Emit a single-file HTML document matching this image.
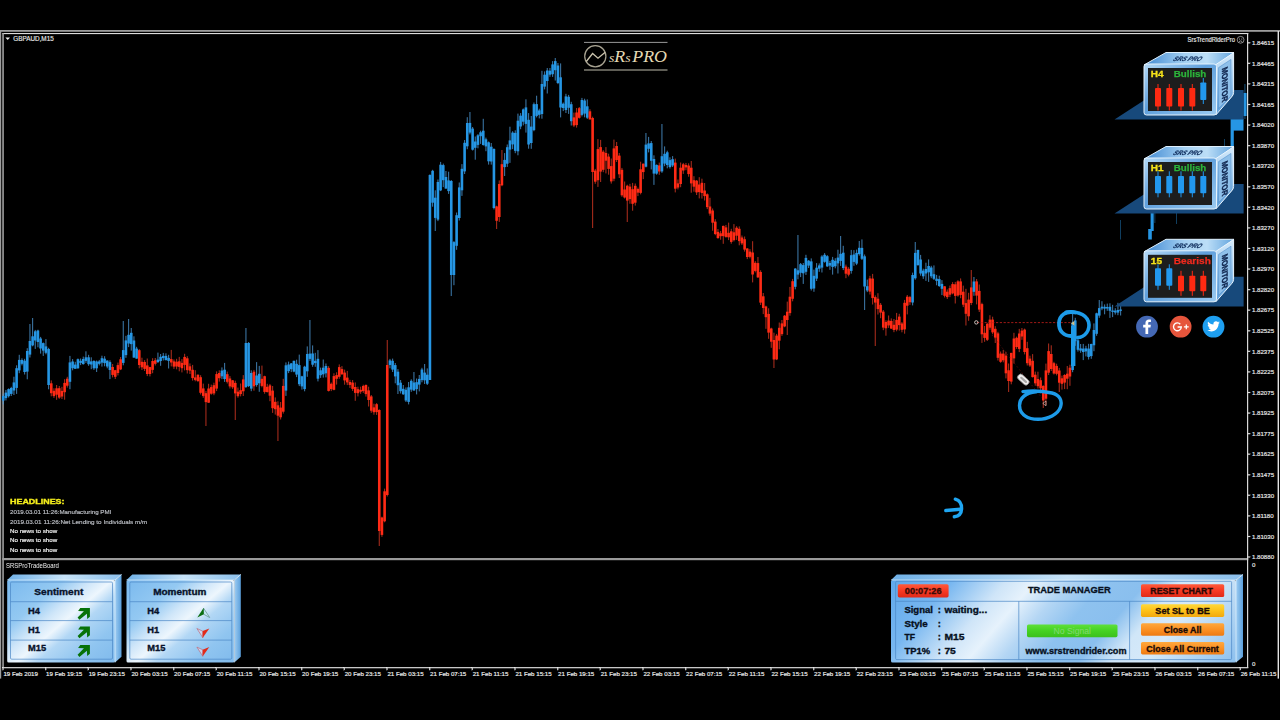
<!DOCTYPE html>
<html><head><meta charset="utf-8"><title>GBPAUD M15</title>
<style>
html,body{margin:0;padding:0;background:#000;}
body{width:1280px;height:720px;overflow:hidden;font-family:"Liberation Sans",sans-serif;}
svg{display:block;position:absolute;left:0;top:0;}
text{font-family:"Liberation Sans",sans-serif;}
.ser{font-family:"Liberation Serif",serif;}
</style></head><body>
<svg width="1280" height="720" viewBox="0 0 1280 720">
<defs>
<linearGradient id="gFront" gradientUnits="userSpaceOnUse" x1="7" y1="580" x2="92.8" y2="680.3">
<stop offset="0" stop-color="#7ab9ee"/><stop offset=".28" stop-color="#94c9f2"/><stop offset=".42" stop-color="#cfe6f9"/><stop offset=".52" stop-color="#edf6fd"/><stop offset=".62" stop-color="#b2d7f5"/><stop offset=".8" stop-color="#90c5f0"/><stop offset="1" stop-color="#80baec"/>
</linearGradient>
<linearGradient id="gTM" gradientUnits="userSpaceOnUse" x1="891" y1="580" x2="1130.6" y2="785">
<stop offset="0" stop-color="#5fa8ec"/><stop offset=".15" stop-color="#78b7f0"/><stop offset=".28" stop-color="#cfe5f8"/><stop offset=".35" stop-color="#e6f2fc"/><stop offset=".43" stop-color="#b4d6f4"/><stop offset=".52" stop-color="#8ec2ef"/><stop offset=".62" stop-color="#8abfee"/><stop offset=".70" stop-color="#d0e6f8"/><stop offset=".78" stop-color="#d6e9f9"/><stop offset=".9" stop-color="#aed3f3"/><stop offset="1" stop-color="#8cc0ee"/>
</linearGradient>
<linearGradient id="gTop" x1="0" y1="0" x2="1" y2="0">
<stop offset="0" stop-color="#6fb0e6"/><stop offset=".5" stop-color="#c7e3f8"/><stop offset="1" stop-color="#8cc0ec"/>
</linearGradient>
<linearGradient id="gSide" x1="0" y1="0" x2="1" y2="0">
<stop offset="0" stop-color="#9fcdf2"/><stop offset="1" stop-color="#5a9fdc"/>
</linearGradient>
<linearGradient id="gMonTop" x1="0" y1="0" x2="1" y2="0">
<stop offset="0" stop-color="#3f88d2"/><stop offset=".45" stop-color="#a4d0f2"/><stop offset=".7" stop-color="#bcdef7"/><stop offset="1" stop-color="#62a4de"/>
</linearGradient>
<linearGradient id="gMonSide" x1="0" y1="0" x2="0" y2="1">
<stop offset="0" stop-color="#d6ebfb"/><stop offset=".5" stop-color="#9cc8ee"/><stop offset="1" stop-color="#5d9fda"/>
</linearGradient>
<linearGradient id="gMonFront" x1="0" y1="0" x2="1" y2="1">
<stop offset="0" stop-color="#b4d9f6"/><stop offset=".45" stop-color="#5f9fdc"/><stop offset="1" stop-color="#9ccbf1"/>
</linearGradient>
<linearGradient id="gRedBtn" x1="0" y1="0" x2="0" y2="1"><stop offset="0" stop-color="#ff5a3a"/><stop offset=".5" stop-color="#f83a24"/><stop offset="1" stop-color="#e02a18"/></linearGradient>
<linearGradient id="gYelBtn" x1="0" y1="0" x2="0" y2="1"><stop offset="0" stop-color="#ffd83a"/><stop offset=".5" stop-color="#fdc21a"/><stop offset="1" stop-color="#f2a80e"/></linearGradient>
<linearGradient id="gOrBtn" x1="0" y1="0" x2="0" y2="1"><stop offset="0" stop-color="#ffa83e"/><stop offset=".5" stop-color="#fb9124"/><stop offset="1" stop-color="#ee7a12"/></linearGradient>
<linearGradient id="gGrBtn" x1="0" y1="0" x2="0" y2="1"><stop offset="0" stop-color="#5fe03a"/><stop offset=".5" stop-color="#45d222"/><stop offset="1" stop-color="#3cc01c"/></linearGradient>
<filter id="soft" x="-5%" y="-5%" width="110%" height="110%"><feGaussianBlur stdDeviation="0.35"/></filter>
<filter id="soft2" x="-5%" y="-5%" width="110%" height="110%"><feGaussianBlur stdDeviation="0.3"/></filter>
</defs>
<rect width="1280" height="720" fill="#000"/>

<g id="frame">
<rect x="0" y="30" width="1280" height="1.8" fill="#9c9c9c"/>
<rect x="0" y="30" width="1.2" height="648.6" fill="#9c9c9c"/>
<rect x="1277.6" y="31" width="1.4" height="647.6" fill="#e4e4e4"/>
<rect x="2.3" y="33" width="1246" height="1.1" fill="#dcdcdc"/>
<rect x="2.3" y="33" width="1.5" height="635" fill="#a8a8a8"/>
<rect x="2.3" y="558" width="1246" height="2.2" fill="#9a9a9a"/>
<rect x="2.3" y="667" width="1246" height="1.3" fill="#c8c8c8"/>
<rect x="1247" y="33" width="1.2" height="635" fill="#d8d8d8"/>
</g>
<g id="paxis" fill="#e6e6e6" font-size="6.1" stroke="#e6e6e6" stroke-width=".18">
<rect x="1248" y="42.3" width="2.2" height="1" fill="#d8d8d8"/>
<text x="1252" y="45.0">1.84615</text>
<rect x="1248" y="62.9" width="2.2" height="1" fill="#d8d8d8"/>
<text x="1252" y="65.6">1.84465</text>
<rect x="1248" y="83.4" width="2.2" height="1" fill="#d8d8d8"/>
<text x="1252" y="86.1">1.84315</text>
<rect x="1248" y="104.0" width="2.2" height="1" fill="#d8d8d8"/>
<text x="1252" y="106.7">1.84165</text>
<rect x="1248" y="124.6" width="2.2" height="1" fill="#d8d8d8"/>
<text x="1252" y="127.3">1.84020</text>
<rect x="1248" y="145.1" width="2.2" height="1" fill="#d8d8d8"/>
<text x="1252" y="147.8">1.83870</text>
<rect x="1248" y="165.7" width="2.2" height="1" fill="#d8d8d8"/>
<text x="1252" y="168.4">1.83720</text>
<rect x="1248" y="186.3" width="2.2" height="1" fill="#d8d8d8"/>
<text x="1252" y="189.0">1.83570</text>
<rect x="1248" y="206.9" width="2.2" height="1" fill="#d8d8d8"/>
<text x="1252" y="209.6">1.83420</text>
<rect x="1248" y="227.4" width="2.2" height="1" fill="#d8d8d8"/>
<text x="1252" y="230.1">1.83270</text>
<rect x="1248" y="248.0" width="2.2" height="1" fill="#d8d8d8"/>
<text x="1252" y="250.7">1.83120</text>
<rect x="1248" y="268.6" width="2.2" height="1" fill="#d8d8d8"/>
<text x="1252" y="271.3">1.82970</text>
<rect x="1248" y="289.1" width="2.2" height="1" fill="#d8d8d8"/>
<text x="1252" y="291.8">1.82820</text>
<rect x="1248" y="309.7" width="2.2" height="1" fill="#d8d8d8"/>
<text x="1252" y="312.4">1.82675</text>
<rect x="1248" y="330.3" width="2.2" height="1" fill="#d8d8d8"/>
<text x="1252" y="333.0">1.82525</text>
<rect x="1248" y="350.9" width="2.2" height="1" fill="#d8d8d8"/>
<text x="1252" y="353.6">1.82375</text>
<rect x="1248" y="371.4" width="2.2" height="1" fill="#d8d8d8"/>
<text x="1252" y="374.1">1.82225</text>
<rect x="1248" y="392.0" width="2.2" height="1" fill="#d8d8d8"/>
<text x="1252" y="394.7">1.82075</text>
<rect x="1248" y="412.6" width="2.2" height="1" fill="#d8d8d8"/>
<text x="1252" y="415.3">1.81925</text>
<rect x="1248" y="433.1" width="2.2" height="1" fill="#d8d8d8"/>
<text x="1252" y="435.8">1.81775</text>
<rect x="1248" y="453.7" width="2.2" height="1" fill="#d8d8d8"/>
<text x="1252" y="456.4">1.81625</text>
<rect x="1248" y="474.3" width="2.2" height="1" fill="#d8d8d8"/>
<text x="1252" y="477.0">1.81475</text>
<rect x="1248" y="494.8" width="2.2" height="1" fill="#d8d8d8"/>
<text x="1252" y="497.5">1.81330</text>
<rect x="1248" y="515.4" width="2.2" height="1" fill="#d8d8d8"/>
<text x="1252" y="518.1">1.81180</text>
<rect x="1248" y="536.0" width="2.2" height="1" fill="#d8d8d8"/>
<text x="1252" y="538.7">1.81030</text>
<rect x="1248" y="556.5" width="2.2" height="1" fill="#d8d8d8"/>
<text x="1252" y="559.2">1.80880</text>
<text x="1252" y="566.7">0</text><text x="1252" y="665.5">0</text>
</g>
<g id="taxis" fill="#ececec" font-size="6.15" stroke="#ececec" stroke-width=".18">
<rect x="2.5" y="667.5" width="1" height="2.6" fill="#d8d8d8"/>
<text x="3.4" y="675.7">19 Feb 2019</text>
<rect x="45.2" y="667.5" width="1" height="2.6" fill="#d8d8d8"/>
<text x="46.1" y="675.7">19 Feb 19:15</text>
<rect x="87.8" y="667.5" width="1" height="2.6" fill="#d8d8d8"/>
<text x="88.7" y="675.7">19 Feb 23:15</text>
<rect x="130.5" y="667.5" width="1" height="2.6" fill="#d8d8d8"/>
<text x="131.4" y="675.7">20 Feb 03:15</text>
<rect x="173.2" y="667.5" width="1" height="2.6" fill="#d8d8d8"/>
<text x="174.1" y="675.7">20 Feb 07:15</text>
<rect x="215.8" y="667.5" width="1" height="2.6" fill="#d8d8d8"/>
<text x="216.7" y="675.7">20 Feb 11:15</text>
<rect x="258.5" y="667.5" width="1" height="2.6" fill="#d8d8d8"/>
<text x="259.4" y="675.7">20 Feb 15:15</text>
<rect x="301.2" y="667.5" width="1" height="2.6" fill="#d8d8d8"/>
<text x="302.1" y="675.7">20 Feb 19:15</text>
<rect x="343.8" y="667.5" width="1" height="2.6" fill="#d8d8d8"/>
<text x="344.7" y="675.7">20 Feb 23:15</text>
<rect x="386.5" y="667.5" width="1" height="2.6" fill="#d8d8d8"/>
<text x="387.4" y="675.7">21 Feb 03:15</text>
<rect x="429.2" y="667.5" width="1" height="2.6" fill="#d8d8d8"/>
<text x="430.1" y="675.7">21 Feb 07:15</text>
<rect x="471.8" y="667.5" width="1" height="2.6" fill="#d8d8d8"/>
<text x="472.7" y="675.7">21 Feb 11:15</text>
<rect x="514.5" y="667.5" width="1" height="2.6" fill="#d8d8d8"/>
<text x="515.4" y="675.7">21 Feb 15:15</text>
<rect x="557.2" y="667.5" width="1" height="2.6" fill="#d8d8d8"/>
<text x="558.1" y="675.7">21 Feb 19:15</text>
<rect x="599.8" y="667.5" width="1" height="2.6" fill="#d8d8d8"/>
<text x="600.7" y="675.7">21 Feb 23:15</text>
<rect x="642.5" y="667.5" width="1" height="2.6" fill="#d8d8d8"/>
<text x="643.4" y="675.7">22 Feb 03:15</text>
<rect x="685.2" y="667.5" width="1" height="2.6" fill="#d8d8d8"/>
<text x="686.1" y="675.7">22 Feb 07:15</text>
<rect x="727.8" y="667.5" width="1" height="2.6" fill="#d8d8d8"/>
<text x="728.7" y="675.7">22 Feb 11:15</text>
<rect x="770.5" y="667.5" width="1" height="2.6" fill="#d8d8d8"/>
<text x="771.4" y="675.7">22 Feb 15:15</text>
<rect x="813.2" y="667.5" width="1" height="2.6" fill="#d8d8d8"/>
<text x="814.1" y="675.7">22 Feb 19:15</text>
<rect x="855.8" y="667.5" width="1" height="2.6" fill="#d8d8d8"/>
<text x="856.7" y="675.7">22 Feb 23:15</text>
<rect x="898.5" y="667.5" width="1" height="2.6" fill="#d8d8d8"/>
<text x="899.4" y="675.7">25 Feb 03:15</text>
<rect x="941.2" y="667.5" width="1" height="2.6" fill="#d8d8d8"/>
<text x="942.1" y="675.7">25 Feb 07:15</text>
<rect x="983.8" y="667.5" width="1" height="2.6" fill="#d8d8d8"/>
<text x="984.7" y="675.7">25 Feb 11:15</text>
<rect x="1026.5" y="667.5" width="1" height="2.6" fill="#d8d8d8"/>
<text x="1027.4" y="675.7">25 Feb 15:15</text>
<rect x="1069.2" y="667.5" width="1" height="2.6" fill="#d8d8d8"/>
<text x="1070.1" y="675.7">25 Feb 19:15</text>
<rect x="1111.8" y="667.5" width="1" height="2.6" fill="#d8d8d8"/>
<text x="1112.7" y="675.7">25 Feb 23:15</text>
<rect x="1154.5" y="667.5" width="1" height="2.6" fill="#d8d8d8"/>
<text x="1155.4" y="675.7">26 Feb 03:15</text>
<rect x="1197.2" y="667.5" width="1" height="2.6" fill="#d8d8d8"/>
<text x="1198.1" y="675.7">26 Feb 07:15</text>
<rect x="1239.8" y="667.5" width="1" height="2.6" fill="#d8d8d8"/>
<text x="1240.7" y="675.7">26 Feb 11:15</text>
</g>
<path d="M5.4 37.5h4.6l-2.3 2.6z" fill="#f0f0f0"/>
<text x="13.3" y="40.9" font-size="6.3" fill="#e8e8e8" stroke="#e8e8e8" stroke-width=".15" textLength="40.4" lengthAdjust="spacingAndGlyphs">GBPAUD,M15</text>
<text x="1187.6" y="41.9" font-size="6.3" fill="#e8e8e8" stroke="#e8e8e8" stroke-width=".15" textLength="47.5" lengthAdjust="spacingAndGlyphs">SrsTrendRiderPro</text>
<g stroke="#e0e0e0" stroke-width=".6" fill="none"><circle cx="1240.6" cy="39.8" r="3.4"/><path d="M1239 41.6q1.6-1.4 3.2 0"/></g><circle cx="1239.4" cy="38.9" r=".5" fill="#e0e0e0"/><circle cx="1241.8" cy="38.9" r=".5" fill="#e0e0e0"/>
<g id="logo">
<rect x="584" y="41.9" width="83.5" height=".9" fill="#a9a9a9"/>
<rect x="584" y="69.2" width="83.5" height="1.6" fill="#77756c"/>
<circle cx="595.3" cy="56.3" r="10.6" fill="none" stroke="#a8a392" stroke-width="1.25"/>
<path d="M586.3 61.5L592.6 53.5L598 58.2L605.2 52.3" fill="none" stroke="#cbc4ae" stroke-width="1.3"/>
<text class="ser" x="609" y="61.6" font-size="17.5" font-style="italic" fill="#e4d9b4" textLength="58" lengthAdjust="spacingAndGlyphs"><tspan font-size="13.5">s</tspan>R<tspan font-size="13.5">s</tspan><tspan dx="1.5">P</tspan>RO</text>
</g>
<g id="candles" filter="url(#soft)">
<rect x="2.72" y="393.8" width="1.1" height="10.6" fill="#4f9edc" opacity="0.72"/>
<rect x="1.97" y="396.0" width="2.6" height="4.6" fill="#2696e4"/>
<rect x="5.38" y="389.9" width="1.1" height="10.5" fill="#4f9edc" opacity="0.72"/>
<rect x="4.63" y="392.6" width="2.6" height="5.5" fill="#2696e4"/>
<rect x="8.05" y="388.4" width="1.1" height="9.1" fill="#4f9edc" opacity="0.72"/>
<rect x="7.30" y="389.1" width="2.6" height="7.1" fill="#2696e4"/>
<rect x="10.72" y="386.8" width="1.1" height="9.2" fill="#4f9edc" opacity="0.72"/>
<rect x="9.97" y="388.0" width="2.6" height="5.9" fill="#2696e4"/>
<rect x="13.38" y="376.7" width="1.1" height="18.3" fill="#4f9edc" opacity="0.72"/>
<rect x="12.63" y="382.4" width="2.6" height="8.1" fill="#2696e4"/>
<rect x="16.05" y="365.3" width="1.1" height="28.6" fill="#4f9edc" opacity="0.72"/>
<rect x="15.30" y="368.2" width="2.6" height="19.7" fill="#2696e4"/>
<rect x="18.72" y="354.8" width="1.1" height="18.4" fill="#4f9edc" opacity="0.72"/>
<rect x="17.97" y="359.9" width="2.6" height="10.5" fill="#2696e4"/>
<rect x="21.38" y="358.3" width="1.1" height="7.1" fill="#4f9edc" opacity="0.72"/>
<rect x="20.63" y="360.0" width="2.6" height="3.8" fill="#2696e4"/>
<rect x="24.05" y="358.8" width="1.1" height="15.7" fill="#4f9edc" opacity="0.72"/>
<rect x="23.30" y="360.7" width="2.6" height="11.3" fill="#2696e4"/>
<rect x="26.72" y="348.2" width="1.1" height="31.1" fill="#4f9edc" opacity="0.72"/>
<rect x="25.97" y="351.0" width="2.6" height="20.6" fill="#2696e4"/>
<rect x="29.38" y="324.0" width="1.1" height="33.5" fill="#4f9edc" opacity="0.72"/>
<rect x="28.63" y="341.0" width="2.6" height="13.6" fill="#2696e4"/>
<rect x="32.05" y="318.0" width="1.1" height="28.3" fill="#4f9edc" opacity="0.72"/>
<rect x="31.30" y="336.3" width="2.6" height="9.1" fill="#2696e4"/>
<rect x="34.72" y="329.9" width="1.1" height="19.0" fill="#4f9edc" opacity="0.72"/>
<rect x="33.97" y="331.3" width="2.6" height="9.2" fill="#2696e4"/>
<rect x="37.38" y="329.7" width="1.1" height="17.6" fill="#4f9edc" opacity="0.72"/>
<rect x="36.63" y="330.5" width="2.6" height="11.5" fill="#2696e4"/>
<rect x="40.05" y="336.9" width="1.1" height="16.7" fill="#4f9edc" opacity="0.72"/>
<rect x="39.30" y="338.5" width="2.6" height="10.0" fill="#2696e4"/>
<rect x="42.72" y="342.5" width="1.1" height="13.4" fill="#4f9edc" opacity="0.72"/>
<rect x="41.97" y="343.1" width="2.6" height="7.5" fill="#2696e4"/>
<rect x="45.38" y="339.1" width="1.1" height="15.2" fill="#4f9edc" opacity="0.72"/>
<rect x="44.63" y="346.4" width="2.6" height="6.4" fill="#2696e4"/>
<rect x="48.05" y="347.8" width="1.1" height="41.5" fill="#4f9edc" opacity="0.72"/>
<rect x="47.30" y="349.0" width="2.6" height="36.0" fill="#2696e4"/>
<rect x="50.72" y="380.4" width="1.1" height="15.9" fill="#f04028" opacity="0.68"/>
<rect x="49.97" y="383.3" width="2.6" height="9.9" fill="#ff2c14"/>
<rect x="53.38" y="388.3" width="1.1" height="9.6" fill="#f04028" opacity="0.68"/>
<rect x="52.63" y="390.8" width="2.6" height="5.3" fill="#ff2c14"/>
<rect x="56.05" y="385.0" width="1.1" height="14.8" fill="#f04028" opacity="0.68"/>
<rect x="55.30" y="388.3" width="2.6" height="6.4" fill="#ff2c14"/>
<rect x="58.72" y="386.0" width="1.1" height="12.8" fill="#f04028" opacity="0.68"/>
<rect x="57.97" y="388.2" width="2.6" height="9.4" fill="#ff2c14"/>
<rect x="61.38" y="386.8" width="1.1" height="12.2" fill="#f04028" opacity="0.68"/>
<rect x="60.63" y="390.9" width="2.6" height="5.6" fill="#ff2c14"/>
<rect x="64.05" y="379.2" width="1.1" height="20.5" fill="#f04028" opacity="0.68"/>
<rect x="63.30" y="382.9" width="2.6" height="9.3" fill="#ff2c14"/>
<rect x="66.72" y="376.8" width="1.1" height="10.8" fill="#f04028" opacity="0.68"/>
<rect x="65.97" y="378.7" width="2.6" height="7.0" fill="#ff2c14"/>
<rect x="69.38" y="355.9" width="1.1" height="33.3" fill="#4f9edc" opacity="0.72"/>
<rect x="68.63" y="362.4" width="2.6" height="19.4" fill="#2696e4"/>
<rect x="72.05" y="359.1" width="1.1" height="11.2" fill="#4f9edc" opacity="0.72"/>
<rect x="71.30" y="361.5" width="2.6" height="6.7" fill="#2696e4"/>
<rect x="74.72" y="361.8" width="1.1" height="7.0" fill="#4f9edc" opacity="0.72"/>
<rect x="73.97" y="364.6" width="2.6" height="4.2" fill="#2696e4"/>
<rect x="77.38" y="358.5" width="1.1" height="10.2" fill="#4f9edc" opacity="0.72"/>
<rect x="76.63" y="359.2" width="2.6" height="9.1" fill="#2696e4"/>
<rect x="80.05" y="358.5" width="1.1" height="6.6" fill="#4f9edc" opacity="0.72"/>
<rect x="79.30" y="360.8" width="2.6" height="2.1" fill="#2696e4"/>
<rect x="82.72" y="356.6" width="1.1" height="8.0" fill="#4f9edc" opacity="0.72"/>
<rect x="81.97" y="359.0" width="2.6" height="5.1" fill="#2696e4"/>
<rect x="85.38" y="351.3" width="1.1" height="11.6" fill="#4f9edc" opacity="0.72"/>
<rect x="84.63" y="357.3" width="2.6" height="3.6" fill="#2696e4"/>
<rect x="88.05" y="354.8" width="1.1" height="11.0" fill="#4f9edc" opacity="0.72"/>
<rect x="87.30" y="357.3" width="2.6" height="6.9" fill="#2696e4"/>
<rect x="90.72" y="357.3" width="1.1" height="11.9" fill="#4f9edc" opacity="0.72"/>
<rect x="89.97" y="361.4" width="2.6" height="3.1" fill="#2696e4"/>
<rect x="93.38" y="360.2" width="1.1" height="9.7" fill="#4f9edc" opacity="0.72"/>
<rect x="92.63" y="361.0" width="2.6" height="7.3" fill="#2696e4"/>
<rect x="96.05" y="360.5" width="1.1" height="11.5" fill="#4f9edc" opacity="0.72"/>
<rect x="95.30" y="361.5" width="2.6" height="6.8" fill="#2696e4"/>
<rect x="98.72" y="359.9" width="1.1" height="5.5" fill="#4f9edc" opacity="0.72"/>
<rect x="97.97" y="361.4" width="2.6" height="2.4" fill="#2696e4"/>
<rect x="101.38" y="355.7" width="1.1" height="10.9" fill="#4f9edc" opacity="0.72"/>
<rect x="100.63" y="358.2" width="2.6" height="4.4" fill="#2696e4"/>
<rect x="104.05" y="356.2" width="1.1" height="10.1" fill="#4f9edc" opacity="0.72"/>
<rect x="103.30" y="358.7" width="2.6" height="4.4" fill="#2696e4"/>
<rect x="106.72" y="360.3" width="1.1" height="8.0" fill="#4f9edc" opacity="0.72"/>
<rect x="105.97" y="360.6" width="2.6" height="5.9" fill="#2696e4"/>
<rect x="109.38" y="360.3" width="1.1" height="18.8" fill="#4f9edc" opacity="0.72"/>
<rect x="108.63" y="362.1" width="2.6" height="7.9" fill="#2696e4"/>
<rect x="112.05" y="364.0" width="1.1" height="13.4" fill="#f04028" opacity="0.68"/>
<rect x="111.30" y="367.0" width="2.6" height="7.9" fill="#ff2c14"/>
<rect x="114.72" y="369.9" width="1.1" height="9.1" fill="#f04028" opacity="0.68"/>
<rect x="113.97" y="370.2" width="2.6" height="6.6" fill="#ff2c14"/>
<rect x="117.38" y="362.6" width="1.1" height="12.8" fill="#f04028" opacity="0.68"/>
<rect x="116.63" y="365.1" width="2.6" height="7.9" fill="#ff2c14"/>
<rect x="120.05" y="357.0" width="1.1" height="13.1" fill="#f04028" opacity="0.68"/>
<rect x="119.30" y="359.3" width="2.6" height="10.1" fill="#ff2c14"/>
<rect x="122.72" y="321.0" width="1.1" height="44.3" fill="#4f9edc" opacity="0.72"/>
<rect x="121.97" y="350.1" width="2.6" height="12.8" fill="#2696e4"/>
<rect x="125.38" y="335.8" width="1.1" height="22.0" fill="#4f9edc" opacity="0.72"/>
<rect x="124.63" y="340.4" width="2.6" height="14.7" fill="#2696e4"/>
<rect x="128.05" y="319.0" width="1.1" height="28.1" fill="#4f9edc" opacity="0.72"/>
<rect x="127.30" y="334.8" width="2.6" height="8.7" fill="#2696e4"/>
<rect x="130.72" y="328.0" width="1.1" height="22.6" fill="#4f9edc" opacity="0.72"/>
<rect x="129.97" y="332.8" width="2.6" height="11.3" fill="#2696e4"/>
<rect x="133.38" y="336.3" width="1.1" height="21.4" fill="#4f9edc" opacity="0.72"/>
<rect x="132.63" y="340.5" width="2.6" height="17.1" fill="#2696e4"/>
<rect x="136.05" y="346.8" width="1.1" height="11.9" fill="#4f9edc" opacity="0.72"/>
<rect x="135.30" y="348.6" width="2.6" height="10.0" fill="#2696e4"/>
<rect x="138.72" y="349.1" width="1.1" height="19.2" fill="#f04028" opacity="0.68"/>
<rect x="137.97" y="350.2" width="2.6" height="14.8" fill="#ff2c14"/>
<rect x="141.38" y="357.7" width="1.1" height="12.3" fill="#f04028" opacity="0.68"/>
<rect x="140.63" y="361.8" width="2.6" height="5.5" fill="#ff2c14"/>
<rect x="144.05" y="360.1" width="1.1" height="10.9" fill="#f04028" opacity="0.68"/>
<rect x="143.30" y="362.0" width="2.6" height="6.9" fill="#ff2c14"/>
<rect x="146.72" y="358.5" width="1.1" height="17.6" fill="#f04028" opacity="0.68"/>
<rect x="145.97" y="365.4" width="2.6" height="8.6" fill="#ff2c14"/>
<rect x="149.38" y="366.8" width="1.1" height="9.6" fill="#f04028" opacity="0.68"/>
<rect x="148.63" y="367.1" width="2.6" height="6.9" fill="#ff2c14"/>
<rect x="152.05" y="358.2" width="1.1" height="15.0" fill="#f04028" opacity="0.68"/>
<rect x="151.30" y="361.0" width="2.6" height="8.9" fill="#ff2c14"/>
<rect x="154.72" y="358.0" width="1.1" height="7.5" fill="#f04028" opacity="0.68"/>
<rect x="153.97" y="360.3" width="2.6" height="3.5" fill="#ff2c14"/>
<rect x="157.38" y="352.6" width="1.1" height="10.3" fill="#4f9edc" opacity="0.72"/>
<rect x="156.63" y="359.6" width="2.6" height="2.5" fill="#2696e4"/>
<rect x="160.05" y="354.0" width="1.1" height="11.8" fill="#4f9edc" opacity="0.72"/>
<rect x="159.30" y="356.8" width="2.6" height="4.2" fill="#2696e4"/>
<rect x="162.72" y="352.9" width="1.1" height="7.6" fill="#4f9edc" opacity="0.72"/>
<rect x="161.97" y="355.9" width="2.6" height="2.2" fill="#2696e4"/>
<rect x="165.38" y="353.3" width="1.1" height="6.9" fill="#4f9edc" opacity="0.72"/>
<rect x="164.63" y="355.9" width="2.6" height="4.3" fill="#2696e4"/>
<rect x="168.05" y="354.8" width="1.1" height="13.7" fill="#4f9edc" opacity="0.72"/>
<rect x="167.30" y="357.9" width="2.6" height="3.0" fill="#2696e4"/>
<rect x="170.72" y="349.9" width="1.1" height="16.5" fill="#f04028" opacity="0.68"/>
<rect x="169.97" y="359.1" width="2.6" height="3.4" fill="#ff2c14"/>
<rect x="173.38" y="359.4" width="1.1" height="9.5" fill="#f04028" opacity="0.68"/>
<rect x="172.63" y="361.4" width="2.6" height="5.2" fill="#ff2c14"/>
<rect x="176.05" y="358.8" width="1.1" height="10.5" fill="#f04028" opacity="0.68"/>
<rect x="175.30" y="361.7" width="2.6" height="4.8" fill="#ff2c14"/>
<rect x="178.72" y="356.9" width="1.1" height="14.4" fill="#f04028" opacity="0.68"/>
<rect x="177.97" y="361.3" width="2.6" height="5.6" fill="#ff2c14"/>
<rect x="181.38" y="359.1" width="1.1" height="13.3" fill="#f04028" opacity="0.68"/>
<rect x="180.63" y="362.9" width="2.6" height="5.3" fill="#ff2c14"/>
<rect x="184.05" y="353.8" width="1.1" height="16.6" fill="#f04028" opacity="0.68"/>
<rect x="183.30" y="356.9" width="2.6" height="8.0" fill="#ff2c14"/>
<rect x="186.72" y="356.2" width="1.1" height="17.3" fill="#f04028" opacity="0.68"/>
<rect x="185.97" y="358.3" width="2.6" height="11.8" fill="#ff2c14"/>
<rect x="189.38" y="363.4" width="1.1" height="10.6" fill="#f04028" opacity="0.68"/>
<rect x="188.63" y="366.3" width="2.6" height="4.3" fill="#ff2c14"/>
<rect x="192.05" y="364.9" width="1.1" height="15.7" fill="#f04028" opacity="0.68"/>
<rect x="191.30" y="369.8" width="2.6" height="8.3" fill="#ff2c14"/>
<rect x="194.72" y="370.2" width="1.1" height="11.1" fill="#f04028" opacity="0.68"/>
<rect x="193.97" y="377.4" width="2.6" height="2.5" fill="#ff2c14"/>
<rect x="197.38" y="374.5" width="1.1" height="7.6" fill="#f04028" opacity="0.68"/>
<rect x="196.63" y="374.7" width="2.6" height="6.3" fill="#ff2c14"/>
<rect x="200.05" y="375.2" width="1.1" height="19.3" fill="#f04028" opacity="0.68"/>
<rect x="199.30" y="377.2" width="2.6" height="15.6" fill="#ff2c14"/>
<rect x="202.72" y="383.6" width="1.1" height="14.2" fill="#f04028" opacity="0.68"/>
<rect x="201.97" y="388.4" width="2.6" height="7.5" fill="#ff2c14"/>
<rect x="205.38" y="390.9" width="1.1" height="35.1" fill="#f04028" opacity="0.68"/>
<rect x="204.63" y="393.2" width="2.6" height="8.9" fill="#ff2c14"/>
<rect x="208.05" y="383.8" width="1.1" height="19.1" fill="#f04028" opacity="0.68"/>
<rect x="207.30" y="388.5" width="2.6" height="14.2" fill="#ff2c14"/>
<rect x="210.72" y="384.6" width="1.1" height="10.1" fill="#f04028" opacity="0.68"/>
<rect x="209.97" y="387.1" width="2.6" height="6.6" fill="#ff2c14"/>
<rect x="213.38" y="382.7" width="1.1" height="12.5" fill="#f04028" opacity="0.68"/>
<rect x="212.63" y="385.2" width="2.6" height="8.2" fill="#ff2c14"/>
<rect x="216.05" y="371.4" width="1.1" height="19.7" fill="#f04028" opacity="0.68"/>
<rect x="215.30" y="374.1" width="2.6" height="14.5" fill="#ff2c14"/>
<rect x="218.72" y="370.3" width="1.1" height="11.3" fill="#f04028" opacity="0.68"/>
<rect x="217.97" y="373.0" width="2.6" height="5.2" fill="#ff2c14"/>
<rect x="221.38" y="367.4" width="1.1" height="11.7" fill="#4f9edc" opacity="0.72"/>
<rect x="220.63" y="370.6" width="2.6" height="5.7" fill="#2696e4"/>
<rect x="224.05" y="362.9" width="1.1" height="19.0" fill="#4f9edc" opacity="0.72"/>
<rect x="223.30" y="369.7" width="2.6" height="9.3" fill="#2696e4"/>
<rect x="226.72" y="371.6" width="1.1" height="11.9" fill="#f04028" opacity="0.68"/>
<rect x="225.97" y="374.2" width="2.6" height="7.6" fill="#ff2c14"/>
<rect x="229.38" y="376.1" width="1.1" height="12.4" fill="#f04028" opacity="0.68"/>
<rect x="228.63" y="378.5" width="2.6" height="7.9" fill="#ff2c14"/>
<rect x="232.05" y="380.0" width="1.1" height="8.9" fill="#f04028" opacity="0.68"/>
<rect x="231.30" y="380.3" width="2.6" height="7.0" fill="#ff2c14"/>
<rect x="234.72" y="380.7" width="1.1" height="39.3" fill="#f04028" opacity="0.68"/>
<rect x="233.97" y="382.9" width="2.6" height="10.5" fill="#ff2c14"/>
<rect x="237.38" y="387.6" width="1.1" height="10.1" fill="#f04028" opacity="0.68"/>
<rect x="236.63" y="391.7" width="2.6" height="4.5" fill="#ff2c14"/>
<rect x="240.05" y="383.5" width="1.1" height="12.9" fill="#f04028" opacity="0.68"/>
<rect x="239.30" y="390.2" width="2.6" height="3.9" fill="#ff2c14"/>
<rect x="242.72" y="375.1" width="1.1" height="20.9" fill="#f04028" opacity="0.68"/>
<rect x="241.97" y="379.4" width="2.6" height="11.9" fill="#ff2c14"/>
<rect x="245.38" y="328.0" width="1.1" height="60.0" fill="#4f9edc" opacity="0.72"/>
<rect x="244.63" y="343.0" width="2.6" height="44.0" fill="#2696e4"/>
<rect x="248.05" y="342.0" width="1.1" height="45.0" fill="#4f9edc" opacity="0.72"/>
<rect x="247.30" y="343.0" width="2.6" height="43.0" fill="#2696e4"/>
<rect x="250.72" y="370.3" width="1.1" height="20.9" fill="#4f9edc" opacity="0.72"/>
<rect x="249.97" y="373.0" width="2.6" height="15.6" fill="#2696e4"/>
<rect x="253.38" y="369.9" width="1.1" height="20.8" fill="#f04028" opacity="0.68"/>
<rect x="252.63" y="371.7" width="2.6" height="14.6" fill="#ff2c14"/>
<rect x="256.05" y="362.1" width="1.1" height="24.6" fill="#4f9edc" opacity="0.72"/>
<rect x="255.30" y="375.5" width="2.6" height="9.5" fill="#2696e4"/>
<rect x="258.72" y="365.9" width="1.1" height="25.9" fill="#4f9edc" opacity="0.72"/>
<rect x="257.97" y="373.8" width="2.6" height="9.5" fill="#2696e4"/>
<rect x="261.38" y="365.6" width="1.1" height="21.7" fill="#f04028" opacity="0.68"/>
<rect x="260.63" y="378.8" width="2.6" height="7.1" fill="#ff2c14"/>
<rect x="264.05" y="375.7" width="1.1" height="18.0" fill="#f04028" opacity="0.68"/>
<rect x="263.30" y="376.2" width="2.6" height="15.7" fill="#ff2c14"/>
<rect x="266.72" y="383.8" width="1.1" height="8.6" fill="#f04028" opacity="0.68"/>
<rect x="265.97" y="386.8" width="2.6" height="5.3" fill="#ff2c14"/>
<rect x="269.38" y="383.9" width="1.1" height="17.3" fill="#f04028" opacity="0.68"/>
<rect x="268.63" y="385.4" width="2.6" height="10.3" fill="#ff2c14"/>
<rect x="272.05" y="386.0" width="1.1" height="26.9" fill="#f04028" opacity="0.68"/>
<rect x="271.30" y="390.6" width="2.6" height="17.6" fill="#ff2c14"/>
<rect x="274.72" y="397.4" width="1.1" height="17.2" fill="#f04028" opacity="0.68"/>
<rect x="273.97" y="401.8" width="2.6" height="7.4" fill="#ff2c14"/>
<rect x="277.38" y="401.3" width="1.1" height="39.7" fill="#f04028" opacity="0.68"/>
<rect x="276.63" y="405.3" width="2.6" height="10.4" fill="#ff2c14"/>
<rect x="280.05" y="402.0" width="1.1" height="17.5" fill="#f04028" opacity="0.68"/>
<rect x="279.30" y="407.6" width="2.6" height="9.7" fill="#ff2c14"/>
<rect x="282.72" y="378.8" width="1.1" height="34.8" fill="#f04028" opacity="0.68"/>
<rect x="281.97" y="385.9" width="2.6" height="25.8" fill="#ff2c14"/>
<rect x="285.38" y="362.4" width="1.1" height="33.5" fill="#4f9edc" opacity="0.72"/>
<rect x="284.63" y="365.3" width="2.6" height="25.3" fill="#2696e4"/>
<rect x="288.05" y="361.6" width="1.1" height="11.5" fill="#4f9edc" opacity="0.72"/>
<rect x="287.30" y="364.5" width="2.6" height="6.6" fill="#2696e4"/>
<rect x="290.72" y="363.0" width="1.1" height="9.1" fill="#4f9edc" opacity="0.72"/>
<rect x="289.97" y="363.4" width="2.6" height="5.8" fill="#2696e4"/>
<rect x="293.38" y="360.7" width="1.1" height="11.6" fill="#4f9edc" opacity="0.72"/>
<rect x="292.63" y="360.8" width="2.6" height="10.8" fill="#2696e4"/>
<rect x="296.05" y="359.7" width="1.1" height="17.4" fill="#4f9edc" opacity="0.72"/>
<rect x="295.30" y="363.8" width="2.6" height="10.8" fill="#2696e4"/>
<rect x="298.72" y="354.6" width="1.1" height="31.5" fill="#4f9edc" opacity="0.72"/>
<rect x="297.97" y="365.1" width="2.6" height="19.1" fill="#2696e4"/>
<rect x="301.38" y="375.8" width="1.1" height="13.8" fill="#4f9edc" opacity="0.72"/>
<rect x="300.63" y="376.3" width="2.6" height="10.1" fill="#2696e4"/>
<rect x="304.05" y="365.8" width="1.1" height="25.5" fill="#4f9edc" opacity="0.72"/>
<rect x="303.30" y="366.7" width="2.6" height="22.4" fill="#2696e4"/>
<rect x="306.72" y="346.4" width="1.1" height="30.4" fill="#4f9edc" opacity="0.72"/>
<rect x="305.97" y="354.0" width="2.6" height="17.3" fill="#2696e4"/>
<rect x="309.38" y="320.0" width="1.1" height="40.8" fill="#4f9edc" opacity="0.72"/>
<rect x="308.63" y="353.6" width="2.6" height="5.3" fill="#2696e4"/>
<rect x="312.05" y="345.4" width="1.1" height="21.4" fill="#4f9edc" opacity="0.72"/>
<rect x="311.30" y="353.5" width="2.6" height="11.2" fill="#2696e4"/>
<rect x="314.72" y="352.8" width="1.1" height="14.0" fill="#4f9edc" opacity="0.72"/>
<rect x="313.97" y="360.8" width="2.6" height="2.3" fill="#2696e4"/>
<rect x="317.38" y="350.1" width="1.1" height="31.3" fill="#4f9edc" opacity="0.72"/>
<rect x="316.63" y="358.8" width="2.6" height="19.9" fill="#2696e4"/>
<rect x="320.05" y="367.6" width="1.1" height="10.3" fill="#4f9edc" opacity="0.72"/>
<rect x="319.30" y="370.3" width="2.6" height="4.9" fill="#2696e4"/>
<rect x="322.72" y="359.5" width="1.1" height="18.1" fill="#4f9edc" opacity="0.72"/>
<rect x="321.97" y="367.7" width="2.6" height="6.6" fill="#2696e4"/>
<rect x="325.38" y="363.5" width="1.1" height="13.9" fill="#4f9edc" opacity="0.72"/>
<rect x="324.63" y="366.0" width="2.6" height="7.3" fill="#2696e4"/>
<rect x="328.05" y="366.2" width="1.1" height="25.3" fill="#f04028" opacity="0.68"/>
<rect x="327.30" y="367.9" width="2.6" height="23.0" fill="#ff2c14"/>
<rect x="330.72" y="382.5" width="1.1" height="8.6" fill="#f04028" opacity="0.68"/>
<rect x="329.97" y="383.8" width="2.6" height="5.3" fill="#ff2c14"/>
<rect x="333.38" y="373.3" width="1.1" height="17.0" fill="#f04028" opacity="0.68"/>
<rect x="332.63" y="376.1" width="2.6" height="13.7" fill="#ff2c14"/>
<rect x="336.05" y="372.3" width="1.1" height="12.3" fill="#f04028" opacity="0.68"/>
<rect x="335.30" y="375.1" width="2.6" height="3.7" fill="#ff2c14"/>
<rect x="338.72" y="364.4" width="1.1" height="14.4" fill="#f04028" opacity="0.68"/>
<rect x="337.97" y="367.1" width="2.6" height="9.7" fill="#ff2c14"/>
<rect x="341.38" y="366.1" width="1.1" height="8.9" fill="#f04028" opacity="0.68"/>
<rect x="340.63" y="369.1" width="2.6" height="5.1" fill="#ff2c14"/>
<rect x="344.05" y="369.6" width="1.1" height="15.1" fill="#f04028" opacity="0.68"/>
<rect x="343.30" y="372.6" width="2.6" height="7.8" fill="#ff2c14"/>
<rect x="346.72" y="370.9" width="1.1" height="14.2" fill="#f04028" opacity="0.68"/>
<rect x="345.97" y="377.6" width="2.6" height="4.8" fill="#ff2c14"/>
<rect x="349.38" y="379.8" width="1.1" height="8.1" fill="#f04028" opacity="0.68"/>
<rect x="348.63" y="382.0" width="2.6" height="2.9" fill="#ff2c14"/>
<rect x="352.05" y="380.0" width="1.1" height="10.9" fill="#f04028" opacity="0.68"/>
<rect x="351.30" y="382.6" width="2.6" height="6.3" fill="#ff2c14"/>
<rect x="354.72" y="382.4" width="1.1" height="18.4" fill="#f04028" opacity="0.68"/>
<rect x="353.97" y="387.0" width="2.6" height="5.9" fill="#ff2c14"/>
<rect x="357.38" y="386.7" width="1.1" height="9.7" fill="#f04028" opacity="0.68"/>
<rect x="356.63" y="389.2" width="2.6" height="4.0" fill="#ff2c14"/>
<rect x="360.05" y="386.7" width="1.1" height="7.1" fill="#f04028" opacity="0.68"/>
<rect x="359.30" y="389.8" width="2.6" height="1.9" fill="#ff2c14"/>
<rect x="362.72" y="384.7" width="1.1" height="8.2" fill="#f04028" opacity="0.68"/>
<rect x="361.97" y="386.0" width="2.6" height="5.1" fill="#ff2c14"/>
<rect x="365.38" y="384.4" width="1.1" height="12.2" fill="#f04028" opacity="0.68"/>
<rect x="364.63" y="385.0" width="2.6" height="9.1" fill="#ff2c14"/>
<rect x="368.05" y="386.7" width="1.1" height="19.8" fill="#f04028" opacity="0.68"/>
<rect x="367.30" y="390.4" width="2.6" height="9.6" fill="#ff2c14"/>
<rect x="370.72" y="395.0" width="1.1" height="17.8" fill="#f04028" opacity="0.68"/>
<rect x="369.97" y="396.4" width="2.6" height="14.3" fill="#ff2c14"/>
<rect x="373.38" y="403.7" width="1.1" height="11.0" fill="#f04028" opacity="0.68"/>
<rect x="372.63" y="407.4" width="2.6" height="4.8" fill="#ff2c14"/>
<rect x="376.05" y="403.1" width="1.1" height="11.8" fill="#f04028" opacity="0.68"/>
<rect x="375.30" y="404.2" width="2.6" height="7.9" fill="#ff2c14"/>
<rect x="378.72" y="409.2" width="1.1" height="136.8" fill="#f04028" opacity="0.68"/>
<rect x="377.97" y="410.0" width="2.6" height="121.0" fill="#ff2c14"/>
<rect x="381.38" y="516.7" width="1.1" height="20.1" fill="#f04028" opacity="0.68"/>
<rect x="380.63" y="517.5" width="2.6" height="17.4" fill="#ff2c14"/>
<rect x="384.05" y="488.6" width="1.1" height="33.7" fill="#f04028" opacity="0.68"/>
<rect x="383.30" y="491.3" width="2.6" height="30.0" fill="#ff2c14"/>
<rect x="386.72" y="340.0" width="1.1" height="156.5" fill="#f04028" opacity="0.68"/>
<rect x="385.97" y="365.0" width="2.6" height="130.0" fill="#ff2c14"/>
<rect x="389.38" y="358.9" width="1.1" height="9.4" fill="#4f9edc" opacity="0.72"/>
<rect x="388.63" y="360.4" width="2.6" height="4.6" fill="#2696e4"/>
<rect x="392.05" y="358.6" width="1.1" height="13.4" fill="#4f9edc" opacity="0.72"/>
<rect x="391.30" y="360.8" width="2.6" height="8.8" fill="#2696e4"/>
<rect x="394.72" y="363.0" width="1.1" height="20.3" fill="#4f9edc" opacity="0.72"/>
<rect x="393.97" y="365.1" width="2.6" height="11.3" fill="#2696e4"/>
<rect x="397.38" y="369.1" width="1.1" height="24.9" fill="#4f9edc" opacity="0.72"/>
<rect x="396.63" y="371.7" width="2.6" height="13.5" fill="#2696e4"/>
<rect x="400.05" y="380.0" width="1.1" height="13.5" fill="#4f9edc" opacity="0.72"/>
<rect x="399.30" y="382.7" width="2.6" height="8.5" fill="#2696e4"/>
<rect x="402.72" y="385.0" width="1.1" height="9.8" fill="#4f9edc" opacity="0.72"/>
<rect x="401.97" y="388.8" width="2.6" height="5.5" fill="#2696e4"/>
<rect x="405.38" y="387.4" width="1.1" height="14.6" fill="#4f9edc" opacity="0.72"/>
<rect x="404.63" y="389.8" width="2.6" height="10.7" fill="#2696e4"/>
<rect x="408.05" y="382.0" width="1.1" height="22.4" fill="#4f9edc" opacity="0.72"/>
<rect x="407.30" y="387.3" width="2.6" height="14.6" fill="#2696e4"/>
<rect x="410.72" y="379.3" width="1.1" height="12.5" fill="#4f9edc" opacity="0.72"/>
<rect x="409.97" y="380.8" width="2.6" height="8.8" fill="#2696e4"/>
<rect x="413.38" y="372.0" width="1.1" height="18.7" fill="#4f9edc" opacity="0.72"/>
<rect x="412.63" y="382.5" width="2.6" height="8.0" fill="#2696e4"/>
<rect x="416.05" y="378.5" width="1.1" height="15.9" fill="#4f9edc" opacity="0.72"/>
<rect x="415.30" y="382.2" width="2.6" height="6.9" fill="#2696e4"/>
<rect x="418.72" y="375.0" width="1.1" height="16.4" fill="#4f9edc" opacity="0.72"/>
<rect x="417.97" y="378.9" width="2.6" height="5.7" fill="#2696e4"/>
<rect x="421.38" y="367.8" width="1.1" height="14.5" fill="#4f9edc" opacity="0.72"/>
<rect x="420.63" y="369.5" width="2.6" height="10.6" fill="#2696e4"/>
<rect x="424.05" y="364.0" width="1.1" height="20.0" fill="#4f9edc" opacity="0.72"/>
<rect x="423.30" y="372.6" width="2.6" height="7.7" fill="#2696e4"/>
<rect x="426.72" y="368.4" width="1.1" height="16.6" fill="#4f9edc" opacity="0.72"/>
<rect x="425.97" y="374.7" width="2.6" height="9.0" fill="#2696e4"/>
<rect x="429.38" y="174.3" width="1.1" height="205.7" fill="#4f9edc" opacity="0.72"/>
<rect x="428.63" y="175.0" width="2.6" height="205.0" fill="#2696e4"/>
<rect x="432.05" y="169.8" width="1.1" height="36.9" fill="#4f9edc" opacity="0.72"/>
<rect x="431.30" y="170.8" width="2.6" height="31.9" fill="#2696e4"/>
<rect x="434.72" y="190.3" width="1.1" height="40.7" fill="#4f9edc" opacity="0.72"/>
<rect x="433.97" y="197.7" width="2.6" height="20.2" fill="#2696e4"/>
<rect x="437.38" y="179.5" width="1.1" height="41.6" fill="#4f9edc" opacity="0.72"/>
<rect x="436.63" y="182.0" width="2.6" height="37.6" fill="#2696e4"/>
<rect x="440.05" y="161.9" width="1.1" height="29.2" fill="#4f9edc" opacity="0.72"/>
<rect x="439.30" y="164.7" width="2.6" height="25.7" fill="#2696e4"/>
<rect x="442.72" y="163.6" width="1.1" height="23.5" fill="#4f9edc" opacity="0.72"/>
<rect x="441.97" y="165.1" width="2.6" height="15.1" fill="#2696e4"/>
<rect x="445.38" y="171.0" width="1.1" height="17.7" fill="#4f9edc" opacity="0.72"/>
<rect x="444.63" y="177.0" width="2.6" height="11.6" fill="#2696e4"/>
<rect x="448.05" y="171.7" width="1.1" height="22.2" fill="#4f9edc" opacity="0.72"/>
<rect x="447.30" y="180.4" width="2.6" height="10.7" fill="#2696e4"/>
<rect x="450.72" y="180.0" width="1.1" height="116.0" fill="#4f9edc" opacity="0.72"/>
<rect x="449.97" y="181.0" width="2.6" height="94.0" fill="#2696e4"/>
<rect x="453.38" y="241.1" width="1.1" height="44.1" fill="#4f9edc" opacity="0.72"/>
<rect x="452.63" y="242.1" width="2.6" height="32.9" fill="#2696e4"/>
<rect x="456.05" y="212.5" width="1.1" height="37.3" fill="#4f9edc" opacity="0.72"/>
<rect x="455.30" y="215.2" width="2.6" height="30.6" fill="#2696e4"/>
<rect x="458.72" y="182.5" width="1.1" height="38.0" fill="#4f9edc" opacity="0.72"/>
<rect x="457.97" y="187.4" width="2.6" height="30.6" fill="#2696e4"/>
<rect x="461.38" y="164.1" width="1.1" height="31.8" fill="#4f9edc" opacity="0.72"/>
<rect x="460.63" y="168.8" width="2.6" height="21.5" fill="#2696e4"/>
<rect x="464.05" y="140.0" width="1.1" height="34.0" fill="#4f9edc" opacity="0.72"/>
<rect x="463.30" y="142.8" width="2.6" height="28.6" fill="#2696e4"/>
<rect x="466.72" y="117.2" width="1.1" height="32.0" fill="#4f9edc" opacity="0.72"/>
<rect x="465.97" y="123.0" width="2.6" height="23.3" fill="#2696e4"/>
<rect x="469.38" y="112.0" width="1.1" height="22.4" fill="#4f9edc" opacity="0.72"/>
<rect x="468.63" y="122.9" width="2.6" height="9.7" fill="#2696e4"/>
<rect x="472.05" y="127.0" width="1.1" height="23.5" fill="#4f9edc" opacity="0.72"/>
<rect x="471.30" y="128.6" width="2.6" height="21.1" fill="#2696e4"/>
<rect x="474.72" y="136.5" width="1.1" height="23.2" fill="#4f9edc" opacity="0.72"/>
<rect x="473.97" y="141.5" width="2.6" height="6.3" fill="#2696e4"/>
<rect x="477.38" y="134.1" width="1.1" height="14.2" fill="#4f9edc" opacity="0.72"/>
<rect x="476.63" y="135.3" width="2.6" height="9.6" fill="#2696e4"/>
<rect x="480.05" y="130.7" width="1.1" height="13.2" fill="#4f9edc" opacity="0.72"/>
<rect x="479.30" y="132.3" width="2.6" height="3.9" fill="#2696e4"/>
<rect x="482.72" y="118.8" width="1.1" height="26.8" fill="#4f9edc" opacity="0.72"/>
<rect x="481.97" y="130.7" width="2.6" height="14.3" fill="#2696e4"/>
<rect x="485.38" y="137.6" width="1.1" height="13.6" fill="#4f9edc" opacity="0.72"/>
<rect x="484.63" y="139.3" width="2.6" height="7.1" fill="#2696e4"/>
<rect x="488.05" y="141.5" width="1.1" height="23.1" fill="#4f9edc" opacity="0.72"/>
<rect x="487.30" y="142.3" width="2.6" height="19.0" fill="#2696e4"/>
<rect x="490.72" y="143.0" width="1.1" height="21.6" fill="#4f9edc" opacity="0.72"/>
<rect x="489.97" y="146.7" width="2.6" height="14.8" fill="#2696e4"/>
<rect x="493.38" y="148.3" width="1.1" height="61.1" fill="#4f9edc" opacity="0.72"/>
<rect x="492.63" y="149.0" width="2.6" height="59.0" fill="#2696e4"/>
<rect x="496.05" y="205.7" width="1.1" height="23.3" fill="#f04028" opacity="0.68"/>
<rect x="495.30" y="206.4" width="2.6" height="14.4" fill="#ff2c14"/>
<rect x="498.72" y="180.4" width="1.1" height="41.5" fill="#f04028" opacity="0.68"/>
<rect x="497.97" y="184.0" width="2.6" height="33.0" fill="#ff2c14"/>
<rect x="501.38" y="150.0" width="1.1" height="36.2" fill="#f04028" opacity="0.68"/>
<rect x="500.63" y="164.2" width="2.6" height="21.1" fill="#ff2c14"/>
<rect x="504.05" y="153.1" width="1.1" height="22.9" fill="#4f9edc" opacity="0.72"/>
<rect x="503.30" y="159.9" width="2.6" height="7.2" fill="#2696e4"/>
<rect x="506.72" y="144.5" width="1.1" height="22.4" fill="#4f9edc" opacity="0.72"/>
<rect x="505.97" y="147.2" width="2.6" height="16.5" fill="#2696e4"/>
<rect x="509.38" y="126.7" width="1.1" height="36.2" fill="#4f9edc" opacity="0.72"/>
<rect x="508.63" y="140.4" width="2.6" height="9.2" fill="#2696e4"/>
<rect x="512.05" y="131.2" width="1.1" height="17.9" fill="#4f9edc" opacity="0.72"/>
<rect x="511.30" y="132.6" width="2.6" height="11.8" fill="#2696e4"/>
<rect x="514.72" y="130.3" width="1.1" height="22.9" fill="#4f9edc" opacity="0.72"/>
<rect x="513.97" y="132.9" width="2.6" height="17.9" fill="#2696e4"/>
<rect x="517.38" y="113.6" width="1.1" height="41.7" fill="#4f9edc" opacity="0.72"/>
<rect x="516.63" y="120.7" width="2.6" height="30.6" fill="#2696e4"/>
<rect x="520.05" y="113.1" width="1.1" height="16.1" fill="#4f9edc" opacity="0.72"/>
<rect x="519.30" y="115.7" width="2.6" height="10.8" fill="#2696e4"/>
<rect x="522.72" y="108.5" width="1.1" height="16.9" fill="#4f9edc" opacity="0.72"/>
<rect x="521.97" y="109.4" width="2.6" height="12.3" fill="#2696e4"/>
<rect x="525.38" y="99.3" width="1.1" height="33.3" fill="#4f9edc" opacity="0.72"/>
<rect x="524.63" y="107.4" width="2.6" height="16.5" fill="#2696e4"/>
<rect x="528.05" y="113.1" width="1.1" height="35.6" fill="#4f9edc" opacity="0.72"/>
<rect x="527.30" y="119.8" width="2.6" height="24.7" fill="#2696e4"/>
<rect x="530.72" y="116.0" width="1.1" height="32.8" fill="#4f9edc" opacity="0.72"/>
<rect x="529.97" y="126.6" width="2.6" height="16.4" fill="#2696e4"/>
<rect x="533.38" y="102.5" width="1.1" height="28.7" fill="#4f9edc" opacity="0.72"/>
<rect x="532.63" y="104.2" width="2.6" height="25.9" fill="#2696e4"/>
<rect x="536.05" y="95.7" width="1.1" height="21.7" fill="#4f9edc" opacity="0.72"/>
<rect x="535.30" y="104.1" width="2.6" height="11.8" fill="#2696e4"/>
<rect x="538.72" y="108.7" width="1.1" height="9.7" fill="#4f9edc" opacity="0.72"/>
<rect x="537.97" y="110.4" width="2.6" height="4.4" fill="#2696e4"/>
<rect x="541.38" y="70.8" width="1.1" height="47.9" fill="#4f9edc" opacity="0.72"/>
<rect x="540.63" y="84.0" width="2.6" height="30.0" fill="#2696e4"/>
<rect x="544.05" y="71.4" width="1.1" height="18.0" fill="#4f9edc" opacity="0.72"/>
<rect x="543.30" y="74.7" width="2.6" height="11.9" fill="#2696e4"/>
<rect x="546.72" y="68.0" width="1.1" height="25.5" fill="#4f9edc" opacity="0.72"/>
<rect x="545.97" y="70.5" width="2.6" height="10.5" fill="#2696e4"/>
<rect x="549.38" y="68.0" width="1.1" height="8.8" fill="#4f9edc" opacity="0.72"/>
<rect x="548.63" y="70.7" width="2.6" height="4.0" fill="#2696e4"/>
<rect x="552.05" y="61.1" width="1.1" height="15.8" fill="#4f9edc" opacity="0.72"/>
<rect x="551.30" y="64.4" width="2.6" height="9.8" fill="#2696e4"/>
<rect x="554.72" y="58.0" width="1.1" height="22.5" fill="#4f9edc" opacity="0.72"/>
<rect x="553.97" y="61.1" width="2.6" height="9.1" fill="#2696e4"/>
<rect x="557.38" y="63.0" width="1.1" height="21.1" fill="#4f9edc" opacity="0.72"/>
<rect x="556.63" y="65.5" width="2.6" height="17.5" fill="#2696e4"/>
<rect x="560.05" y="63.4" width="1.1" height="54.0" fill="#4f9edc" opacity="0.72"/>
<rect x="559.30" y="77.3" width="2.6" height="30.2" fill="#2696e4"/>
<rect x="562.72" y="102.5" width="1.1" height="8.6" fill="#4f9edc" opacity="0.72"/>
<rect x="561.97" y="103.7" width="2.6" height="4.3" fill="#2696e4"/>
<rect x="565.38" y="93.8" width="1.1" height="19.2" fill="#4f9edc" opacity="0.72"/>
<rect x="564.63" y="96.4" width="2.6" height="13.6" fill="#2696e4"/>
<rect x="568.05" y="94.9" width="1.1" height="19.0" fill="#4f9edc" opacity="0.72"/>
<rect x="567.30" y="96.8" width="2.6" height="11.0" fill="#2696e4"/>
<rect x="570.72" y="101.8" width="1.1" height="23.7" fill="#4f9edc" opacity="0.72"/>
<rect x="569.97" y="104.2" width="2.6" height="17.0" fill="#2696e4"/>
<rect x="573.38" y="112.6" width="1.1" height="14.5" fill="#f04028" opacity="0.68"/>
<rect x="572.63" y="117.4" width="2.6" height="8.1" fill="#ff2c14"/>
<rect x="576.05" y="108.0" width="1.1" height="19.6" fill="#f04028" opacity="0.68"/>
<rect x="575.30" y="112.5" width="2.6" height="12.6" fill="#ff2c14"/>
<rect x="578.72" y="107.0" width="1.1" height="11.6" fill="#f04028" opacity="0.68"/>
<rect x="577.97" y="108.2" width="2.6" height="9.6" fill="#ff2c14"/>
<rect x="581.38" y="97.9" width="1.1" height="18.5" fill="#4f9edc" opacity="0.72"/>
<rect x="580.63" y="100.0" width="2.6" height="14.9" fill="#2696e4"/>
<rect x="584.05" y="98.7" width="1.1" height="18.6" fill="#4f9edc" opacity="0.72"/>
<rect x="583.30" y="100.5" width="2.6" height="13.1" fill="#2696e4"/>
<rect x="586.72" y="99.4" width="1.1" height="19.5" fill="#4f9edc" opacity="0.72"/>
<rect x="585.97" y="106.3" width="2.6" height="11.4" fill="#2696e4"/>
<rect x="589.38" y="109.2" width="1.1" height="10.4" fill="#f04028" opacity="0.68"/>
<rect x="588.63" y="111.3" width="2.6" height="8.1" fill="#ff2c14"/>
<rect x="592.05" y="116.7" width="1.1" height="111.3" fill="#f04028" opacity="0.68"/>
<rect x="591.30" y="118.0" width="2.6" height="54.0" fill="#ff2c14"/>
<rect x="594.72" y="168.9" width="1.1" height="14.9" fill="#f04028" opacity="0.68"/>
<rect x="593.97" y="170.6" width="2.6" height="11.1" fill="#ff2c14"/>
<rect x="597.38" y="139.1" width="1.1" height="47.8" fill="#f04028" opacity="0.68"/>
<rect x="596.63" y="149.1" width="2.6" height="31.1" fill="#ff2c14"/>
<rect x="600.05" y="139.9" width="1.1" height="42.1" fill="#f04028" opacity="0.68"/>
<rect x="599.30" y="147.1" width="2.6" height="24.5" fill="#ff2c14"/>
<rect x="602.72" y="150.2" width="1.1" height="22.0" fill="#f04028" opacity="0.68"/>
<rect x="601.97" y="151.7" width="2.6" height="18.1" fill="#ff2c14"/>
<rect x="605.38" y="147.1" width="1.1" height="26.3" fill="#f04028" opacity="0.68"/>
<rect x="604.63" y="153.0" width="2.6" height="7.7" fill="#ff2c14"/>
<rect x="608.05" y="153.7" width="1.1" height="21.0" fill="#f04028" opacity="0.68"/>
<rect x="607.30" y="156.6" width="2.6" height="12.3" fill="#ff2c14"/>
<rect x="610.72" y="158.5" width="1.1" height="25.1" fill="#f04028" opacity="0.68"/>
<rect x="609.97" y="166.1" width="2.6" height="15.3" fill="#ff2c14"/>
<rect x="613.38" y="139.6" width="1.1" height="41.6" fill="#f04028" opacity="0.68"/>
<rect x="612.63" y="148.4" width="2.6" height="30.3" fill="#ff2c14"/>
<rect x="616.05" y="142.0" width="1.1" height="20.0" fill="#f04028" opacity="0.68"/>
<rect x="615.30" y="146.0" width="2.6" height="14.0" fill="#ff2c14"/>
<rect x="618.72" y="153.0" width="1.1" height="25.0" fill="#f04028" opacity="0.68"/>
<rect x="617.97" y="155.6" width="2.6" height="18.7" fill="#ff2c14"/>
<rect x="621.38" y="167.9" width="1.1" height="28.9" fill="#f04028" opacity="0.68"/>
<rect x="620.63" y="169.8" width="2.6" height="25.5" fill="#ff2c14"/>
<rect x="624.05" y="181.5" width="1.1" height="17.0" fill="#f04028" opacity="0.68"/>
<rect x="623.30" y="189.5" width="2.6" height="8.0" fill="#ff2c14"/>
<rect x="626.72" y="184.7" width="1.1" height="37.3" fill="#f04028" opacity="0.68"/>
<rect x="625.97" y="185.7" width="2.6" height="14.9" fill="#ff2c14"/>
<rect x="629.38" y="183.8" width="1.1" height="19.9" fill="#f04028" opacity="0.68"/>
<rect x="628.63" y="186.6" width="2.6" height="12.5" fill="#ff2c14"/>
<rect x="632.05" y="182.9" width="1.1" height="27.8" fill="#f04028" opacity="0.68"/>
<rect x="631.30" y="189.2" width="2.6" height="14.6" fill="#ff2c14"/>
<rect x="634.72" y="183.5" width="1.1" height="22.1" fill="#f04028" opacity="0.68"/>
<rect x="633.97" y="185.8" width="2.6" height="16.9" fill="#ff2c14"/>
<rect x="637.38" y="187.6" width="1.1" height="8.5" fill="#f04028" opacity="0.68"/>
<rect x="636.63" y="189.0" width="2.6" height="3.6" fill="#ff2c14"/>
<rect x="640.05" y="161.7" width="1.1" height="32.7" fill="#f04028" opacity="0.68"/>
<rect x="639.30" y="169.3" width="2.6" height="23.6" fill="#ff2c14"/>
<rect x="642.72" y="163.5" width="1.1" height="15.6" fill="#f04028" opacity="0.68"/>
<rect x="641.97" y="163.7" width="2.6" height="8.4" fill="#ff2c14"/>
<rect x="645.38" y="133.0" width="1.1" height="34.4" fill="#4f9edc" opacity="0.72"/>
<rect x="644.63" y="144.6" width="2.6" height="22.1" fill="#2696e4"/>
<rect x="648.05" y="136.9" width="1.1" height="15.5" fill="#4f9edc" opacity="0.72"/>
<rect x="647.30" y="143.4" width="2.6" height="5.4" fill="#2696e4"/>
<rect x="650.72" y="141.0" width="1.1" height="28.4" fill="#4f9edc" opacity="0.72"/>
<rect x="649.97" y="143.1" width="2.6" height="17.7" fill="#2696e4"/>
<rect x="653.38" y="155.3" width="1.1" height="29.6" fill="#4f9edc" opacity="0.72"/>
<rect x="652.63" y="159.0" width="2.6" height="14.6" fill="#2696e4"/>
<rect x="656.05" y="164.5" width="1.1" height="10.2" fill="#4f9edc" opacity="0.72"/>
<rect x="655.30" y="164.9" width="2.6" height="8.7" fill="#2696e4"/>
<rect x="658.72" y="162.6" width="1.1" height="12.2" fill="#f04028" opacity="0.68"/>
<rect x="657.97" y="165.4" width="2.6" height="6.1" fill="#ff2c14"/>
<rect x="661.38" y="124.0" width="1.1" height="48.8" fill="#4f9edc" opacity="0.72"/>
<rect x="660.63" y="156.2" width="2.6" height="15.2" fill="#2696e4"/>
<rect x="664.05" y="146.4" width="1.1" height="19.8" fill="#4f9edc" opacity="0.72"/>
<rect x="663.30" y="153.8" width="2.6" height="9.8" fill="#2696e4"/>
<rect x="666.72" y="150.7" width="1.1" height="17.6" fill="#4f9edc" opacity="0.72"/>
<rect x="665.97" y="152.3" width="2.6" height="12.7" fill="#2696e4"/>
<rect x="669.38" y="157.3" width="1.1" height="11.2" fill="#4f9edc" opacity="0.72"/>
<rect x="668.63" y="160.1" width="2.6" height="6.9" fill="#2696e4"/>
<rect x="672.05" y="156.1" width="1.1" height="10.9" fill="#4f9edc" opacity="0.72"/>
<rect x="671.30" y="159.2" width="2.6" height="6.3" fill="#2696e4"/>
<rect x="674.72" y="158.6" width="1.1" height="33.8" fill="#f04028" opacity="0.68"/>
<rect x="673.97" y="162.6" width="2.6" height="26.1" fill="#ff2c14"/>
<rect x="677.38" y="179.5" width="1.1" height="9.9" fill="#f04028" opacity="0.68"/>
<rect x="676.63" y="183.4" width="2.6" height="4.1" fill="#ff2c14"/>
<rect x="680.05" y="162.5" width="1.1" height="24.7" fill="#f04028" opacity="0.68"/>
<rect x="679.30" y="167.7" width="2.6" height="16.3" fill="#ff2c14"/>
<rect x="682.72" y="162.9" width="1.1" height="11.0" fill="#f04028" opacity="0.68"/>
<rect x="681.97" y="164.3" width="2.6" height="6.2" fill="#ff2c14"/>
<rect x="685.38" y="162.9" width="1.1" height="7.3" fill="#f04028" opacity="0.68"/>
<rect x="684.63" y="165.0" width="2.6" height="2.4" fill="#ff2c14"/>
<rect x="688.05" y="163.3" width="1.1" height="13.4" fill="#f04028" opacity="0.68"/>
<rect x="687.30" y="165.6" width="2.6" height="8.5" fill="#ff2c14"/>
<rect x="690.72" y="161.0" width="1.1" height="31.7" fill="#f04028" opacity="0.68"/>
<rect x="689.97" y="167.7" width="2.6" height="15.7" fill="#ff2c14"/>
<rect x="693.38" y="176.2" width="1.1" height="15.5" fill="#f04028" opacity="0.68"/>
<rect x="692.63" y="180.2" width="2.6" height="6.5" fill="#ff2c14"/>
<rect x="696.05" y="180.0" width="1.1" height="15.0" fill="#f04028" opacity="0.68"/>
<rect x="695.30" y="180.7" width="2.6" height="11.7" fill="#ff2c14"/>
<rect x="698.72" y="177.2" width="1.1" height="21.2" fill="#f04028" opacity="0.68"/>
<rect x="697.97" y="184.5" width="2.6" height="7.6" fill="#ff2c14"/>
<rect x="701.38" y="178.7" width="1.1" height="19.9" fill="#f04028" opacity="0.68"/>
<rect x="700.63" y="182.8" width="2.6" height="10.2" fill="#ff2c14"/>
<rect x="704.05" y="183.0" width="1.1" height="17.5" fill="#f04028" opacity="0.68"/>
<rect x="703.30" y="190.5" width="2.6" height="5.6" fill="#ff2c14"/>
<rect x="706.72" y="193.4" width="1.1" height="15.7" fill="#f04028" opacity="0.68"/>
<rect x="705.97" y="194.3" width="2.6" height="12.8" fill="#ff2c14"/>
<rect x="709.38" y="197.8" width="1.1" height="17.9" fill="#f04028" opacity="0.68"/>
<rect x="708.63" y="206.5" width="2.6" height="7.1" fill="#ff2c14"/>
<rect x="712.05" y="208.5" width="1.1" height="22.2" fill="#f04028" opacity="0.68"/>
<rect x="711.30" y="210.5" width="2.6" height="12.2" fill="#ff2c14"/>
<rect x="714.72" y="219.2" width="1.1" height="16.0" fill="#f04028" opacity="0.68"/>
<rect x="713.97" y="221.6" width="2.6" height="12.4" fill="#ff2c14"/>
<rect x="717.38" y="229.0" width="1.1" height="9.7" fill="#f04028" opacity="0.68"/>
<rect x="716.63" y="231.9" width="2.6" height="6.2" fill="#ff2c14"/>
<rect x="720.05" y="230.9" width="1.1" height="8.8" fill="#f04028" opacity="0.68"/>
<rect x="719.30" y="233.3" width="2.6" height="2.9" fill="#ff2c14"/>
<rect x="722.72" y="225.6" width="1.1" height="18.2" fill="#f04028" opacity="0.68"/>
<rect x="721.97" y="225.9" width="2.6" height="10.2" fill="#ff2c14"/>
<rect x="725.38" y="224.9" width="1.1" height="12.8" fill="#f04028" opacity="0.68"/>
<rect x="724.63" y="227.4" width="2.6" height="9.5" fill="#ff2c14"/>
<rect x="728.05" y="222.6" width="1.1" height="17.5" fill="#f04028" opacity="0.68"/>
<rect x="727.30" y="232.8" width="2.6" height="4.5" fill="#ff2c14"/>
<rect x="730.72" y="228.8" width="1.1" height="14.9" fill="#f04028" opacity="0.68"/>
<rect x="729.97" y="231.3" width="2.6" height="10.6" fill="#ff2c14"/>
<rect x="733.38" y="224.1" width="1.1" height="17.3" fill="#f04028" opacity="0.68"/>
<rect x="732.63" y="232.3" width="2.6" height="7.8" fill="#ff2c14"/>
<rect x="736.05" y="226.2" width="1.1" height="13.7" fill="#f04028" opacity="0.68"/>
<rect x="735.30" y="227.7" width="2.6" height="8.0" fill="#ff2c14"/>
<rect x="738.72" y="226.4" width="1.1" height="18.9" fill="#f04028" opacity="0.68"/>
<rect x="737.97" y="228.8" width="2.6" height="12.3" fill="#ff2c14"/>
<rect x="741.38" y="235.5" width="1.1" height="9.5" fill="#f04028" opacity="0.68"/>
<rect x="740.63" y="237.5" width="2.6" height="5.9" fill="#ff2c14"/>
<rect x="744.05" y="236.5" width="1.1" height="15.1" fill="#f04028" opacity="0.68"/>
<rect x="743.30" y="239.2" width="2.6" height="10.4" fill="#ff2c14"/>
<rect x="746.72" y="248.1" width="1.1" height="11.0" fill="#f04028" opacity="0.68"/>
<rect x="745.97" y="248.5" width="2.6" height="8.5" fill="#ff2c14"/>
<rect x="749.38" y="249.1" width="1.1" height="9.3" fill="#f04028" opacity="0.68"/>
<rect x="748.63" y="251.6" width="2.6" height="5.2" fill="#ff2c14"/>
<rect x="752.05" y="241.2" width="1.1" height="41.2" fill="#f04028" opacity="0.68"/>
<rect x="751.30" y="252.5" width="2.6" height="22.0" fill="#ff2c14"/>
<rect x="754.72" y="261.1" width="1.1" height="11.3" fill="#f04028" opacity="0.68"/>
<rect x="753.97" y="262.8" width="2.6" height="8.1" fill="#ff2c14"/>
<rect x="757.38" y="257.0" width="1.1" height="20.9" fill="#f04028" opacity="0.68"/>
<rect x="756.63" y="263.1" width="2.6" height="14.3" fill="#ff2c14"/>
<rect x="760.05" y="270.3" width="1.1" height="34.7" fill="#f04028" opacity="0.68"/>
<rect x="759.30" y="272.0" width="2.6" height="30.6" fill="#ff2c14"/>
<rect x="762.72" y="293.0" width="1.1" height="21.1" fill="#f04028" opacity="0.68"/>
<rect x="761.97" y="296.3" width="2.6" height="11.7" fill="#ff2c14"/>
<rect x="765.38" y="305.7" width="1.1" height="23.1" fill="#f04028" opacity="0.68"/>
<rect x="764.63" y="306.5" width="2.6" height="10.7" fill="#ff2c14"/>
<rect x="768.05" y="308.3" width="1.1" height="30.5" fill="#f04028" opacity="0.68"/>
<rect x="767.30" y="313.9" width="2.6" height="18.7" fill="#ff2c14"/>
<rect x="770.72" y="327.7" width="1.1" height="20.1" fill="#f04028" opacity="0.68"/>
<rect x="769.97" y="328.5" width="2.6" height="13.2" fill="#ff2c14"/>
<rect x="773.38" y="332.7" width="1.1" height="35.3" fill="#f04028" opacity="0.68"/>
<rect x="772.63" y="340.0" width="2.6" height="19.5" fill="#ff2c14"/>
<rect x="776.05" y="333.9" width="1.1" height="26.2" fill="#f04028" opacity="0.68"/>
<rect x="775.30" y="335.6" width="2.6" height="23.8" fill="#ff2c14"/>
<rect x="778.72" y="322.5" width="1.1" height="26.8" fill="#f04028" opacity="0.68"/>
<rect x="777.97" y="327.8" width="2.6" height="12.9" fill="#ff2c14"/>
<rect x="781.38" y="320.0" width="1.1" height="15.9" fill="#f04028" opacity="0.68"/>
<rect x="780.63" y="323.4" width="2.6" height="10.7" fill="#ff2c14"/>
<rect x="784.05" y="315.0" width="1.1" height="12.2" fill="#f04028" opacity="0.68"/>
<rect x="783.30" y="315.7" width="2.6" height="10.7" fill="#ff2c14"/>
<rect x="786.72" y="301.6" width="1.1" height="33.4" fill="#f04028" opacity="0.68"/>
<rect x="785.97" y="311.7" width="2.6" height="8.3" fill="#ff2c14"/>
<rect x="789.38" y="286.9" width="1.1" height="28.8" fill="#f04028" opacity="0.68"/>
<rect x="788.63" y="296.7" width="2.6" height="16.4" fill="#ff2c14"/>
<rect x="792.05" y="278.9" width="1.1" height="22.4" fill="#f04028" opacity="0.68"/>
<rect x="791.30" y="281.2" width="2.6" height="17.6" fill="#ff2c14"/>
<rect x="794.72" y="268.1" width="1.1" height="21.2" fill="#4f9edc" opacity="0.72"/>
<rect x="793.97" y="268.6" width="2.6" height="18.2" fill="#2696e4"/>
<rect x="797.38" y="235.0" width="1.1" height="44.3" fill="#4f9edc" opacity="0.72"/>
<rect x="796.63" y="270.3" width="2.6" height="4.3" fill="#2696e4"/>
<rect x="800.05" y="263.0" width="1.1" height="14.1" fill="#4f9edc" opacity="0.72"/>
<rect x="799.30" y="264.2" width="2.6" height="8.6" fill="#2696e4"/>
<rect x="802.72" y="263.0" width="1.1" height="20.9" fill="#4f9edc" opacity="0.72"/>
<rect x="801.97" y="265.1" width="2.6" height="8.2" fill="#2696e4"/>
<rect x="805.38" y="254.8" width="1.1" height="20.1" fill="#4f9edc" opacity="0.72"/>
<rect x="804.63" y="257.9" width="2.6" height="13.9" fill="#2696e4"/>
<rect x="808.05" y="260.1" width="1.1" height="7.9" fill="#4f9edc" opacity="0.72"/>
<rect x="807.30" y="260.7" width="2.6" height="4.9" fill="#2696e4"/>
<rect x="810.72" y="258.4" width="1.1" height="32.1" fill="#4f9edc" opacity="0.72"/>
<rect x="809.97" y="261.4" width="2.6" height="27.4" fill="#2696e4"/>
<rect x="813.38" y="269.6" width="1.1" height="22.2" fill="#4f9edc" opacity="0.72"/>
<rect x="812.63" y="275.8" width="2.6" height="12.7" fill="#2696e4"/>
<rect x="816.05" y="263.1" width="1.1" height="17.9" fill="#4f9edc" opacity="0.72"/>
<rect x="815.30" y="267.7" width="2.6" height="10.9" fill="#2696e4"/>
<rect x="818.72" y="263.4" width="1.1" height="8.4" fill="#4f9edc" opacity="0.72"/>
<rect x="817.97" y="265.4" width="2.6" height="3.3" fill="#2696e4"/>
<rect x="821.38" y="255.2" width="1.1" height="17.3" fill="#4f9edc" opacity="0.72"/>
<rect x="820.63" y="256.5" width="2.6" height="11.1" fill="#2696e4"/>
<rect x="824.05" y="253.1" width="1.1" height="9.6" fill="#4f9edc" opacity="0.72"/>
<rect x="823.30" y="254.8" width="2.6" height="7.0" fill="#2696e4"/>
<rect x="826.72" y="255.1" width="1.1" height="11.8" fill="#4f9edc" opacity="0.72"/>
<rect x="825.97" y="256.2" width="2.6" height="10.2" fill="#2696e4"/>
<rect x="829.38" y="260.9" width="1.1" height="8.9" fill="#4f9edc" opacity="0.72"/>
<rect x="828.63" y="263.0" width="2.6" height="2.6" fill="#2696e4"/>
<rect x="832.05" y="256.9" width="1.1" height="17.7" fill="#4f9edc" opacity="0.72"/>
<rect x="831.30" y="259.8" width="2.6" height="7.1" fill="#2696e4"/>
<rect x="834.72" y="258.2" width="1.1" height="10.1" fill="#4f9edc" opacity="0.72"/>
<rect x="833.97" y="260.8" width="2.6" height="5.5" fill="#2696e4"/>
<rect x="837.38" y="249.7" width="1.1" height="23.8" fill="#4f9edc" opacity="0.72"/>
<rect x="836.63" y="257.6" width="2.6" height="5.8" fill="#2696e4"/>
<rect x="840.05" y="236.0" width="1.1" height="29.9" fill="#4f9edc" opacity="0.72"/>
<rect x="839.30" y="253.8" width="2.6" height="7.1" fill="#2696e4"/>
<rect x="842.72" y="245.8" width="1.1" height="24.3" fill="#4f9edc" opacity="0.72"/>
<rect x="841.97" y="252.7" width="2.6" height="15.3" fill="#2696e4"/>
<rect x="845.38" y="264.6" width="1.1" height="13.6" fill="#f04028" opacity="0.68"/>
<rect x="844.63" y="266.6" width="2.6" height="7.1" fill="#ff2c14"/>
<rect x="848.05" y="267.2" width="1.1" height="9.2" fill="#f04028" opacity="0.68"/>
<rect x="847.30" y="268.8" width="2.6" height="5.9" fill="#ff2c14"/>
<rect x="850.72" y="249.9" width="1.1" height="23.7" fill="#4f9edc" opacity="0.72"/>
<rect x="849.97" y="255.2" width="2.6" height="15.7" fill="#2696e4"/>
<rect x="853.38" y="250.1" width="1.1" height="15.7" fill="#4f9edc" opacity="0.72"/>
<rect x="852.63" y="254.5" width="2.6" height="7.4" fill="#2696e4"/>
<rect x="856.05" y="249.6" width="1.1" height="15.5" fill="#4f9edc" opacity="0.72"/>
<rect x="855.30" y="252.9" width="2.6" height="10.7" fill="#2696e4"/>
<rect x="858.72" y="241.0" width="1.1" height="14.6" fill="#4f9edc" opacity="0.72"/>
<rect x="857.97" y="247.8" width="2.6" height="6.3" fill="#2696e4"/>
<rect x="861.38" y="239.4" width="1.1" height="20.6" fill="#4f9edc" opacity="0.72"/>
<rect x="860.63" y="247.9" width="2.6" height="10.9" fill="#2696e4"/>
<rect x="864.05" y="254.5" width="1.1" height="55.5" fill="#4f9edc" opacity="0.72"/>
<rect x="863.30" y="256.3" width="2.6" height="30.2" fill="#2696e4"/>
<rect x="866.72" y="279.6" width="1.1" height="12.5" fill="#4f9edc" opacity="0.72"/>
<rect x="865.97" y="286.2" width="2.6" height="4.3" fill="#2696e4"/>
<rect x="869.38" y="275.8" width="1.1" height="18.7" fill="#f04028" opacity="0.68"/>
<rect x="868.63" y="278.4" width="2.6" height="13.2" fill="#ff2c14"/>
<rect x="872.05" y="273.9" width="1.1" height="30.6" fill="#f04028" opacity="0.68"/>
<rect x="871.30" y="278.6" width="2.6" height="19.5" fill="#ff2c14"/>
<rect x="874.72" y="295.4" width="1.1" height="50.6" fill="#f04028" opacity="0.68"/>
<rect x="873.97" y="297.1" width="2.6" height="5.5" fill="#ff2c14"/>
<rect x="877.38" y="293.2" width="1.1" height="21.3" fill="#f04028" opacity="0.68"/>
<rect x="876.63" y="298.7" width="2.6" height="10.4" fill="#ff2c14"/>
<rect x="880.05" y="303.0" width="1.1" height="15.2" fill="#f04028" opacity="0.68"/>
<rect x="879.30" y="304.8" width="2.6" height="7.8" fill="#ff2c14"/>
<rect x="882.72" y="310.0" width="1.1" height="20.2" fill="#f04028" opacity="0.68"/>
<rect x="881.97" y="311.6" width="2.6" height="16.0" fill="#ff2c14"/>
<rect x="885.38" y="320.3" width="1.1" height="15.4" fill="#f04028" opacity="0.68"/>
<rect x="884.63" y="322.0" width="2.6" height="6.3" fill="#ff2c14"/>
<rect x="888.05" y="315.5" width="1.1" height="12.4" fill="#f04028" opacity="0.68"/>
<rect x="887.30" y="320.6" width="2.6" height="4.8" fill="#ff2c14"/>
<rect x="890.72" y="318.4" width="1.1" height="10.5" fill="#f04028" opacity="0.68"/>
<rect x="889.97" y="320.9" width="2.6" height="7.7" fill="#ff2c14"/>
<rect x="893.38" y="319.0" width="1.1" height="13.2" fill="#f04028" opacity="0.68"/>
<rect x="892.63" y="324.8" width="2.6" height="5.2" fill="#ff2c14"/>
<rect x="896.05" y="312.9" width="1.1" height="18.4" fill="#f04028" opacity="0.68"/>
<rect x="895.30" y="319.9" width="2.6" height="9.7" fill="#ff2c14"/>
<rect x="898.72" y="313.8" width="1.1" height="16.8" fill="#f04028" opacity="0.68"/>
<rect x="897.97" y="316.6" width="2.6" height="8.5" fill="#ff2c14"/>
<rect x="901.38" y="322.1" width="1.1" height="10.2" fill="#f04028" opacity="0.68"/>
<rect x="900.63" y="323.5" width="2.6" height="6.3" fill="#ff2c14"/>
<rect x="904.05" y="299.9" width="1.1" height="33.8" fill="#f04028" opacity="0.68"/>
<rect x="903.30" y="302.8" width="2.6" height="26.6" fill="#ff2c14"/>
<rect x="906.72" y="295.0" width="1.1" height="19.4" fill="#f04028" opacity="0.68"/>
<rect x="905.97" y="296.7" width="2.6" height="9.0" fill="#ff2c14"/>
<rect x="909.38" y="295.9" width="1.1" height="9.0" fill="#f04028" opacity="0.68"/>
<rect x="908.63" y="297.1" width="2.6" height="5.1" fill="#ff2c14"/>
<rect x="912.05" y="272.6" width="1.1" height="32.8" fill="#4f9edc" opacity="0.72"/>
<rect x="911.30" y="275.0" width="2.6" height="27.5" fill="#2696e4"/>
<rect x="914.72" y="242.0" width="1.1" height="37.7" fill="#4f9edc" opacity="0.72"/>
<rect x="913.97" y="252.9" width="2.6" height="25.4" fill="#2696e4"/>
<rect x="917.38" y="249.8" width="1.1" height="15.9" fill="#4f9edc" opacity="0.72"/>
<rect x="916.63" y="249.9" width="2.6" height="15.2" fill="#2696e4"/>
<rect x="920.05" y="254.9" width="1.1" height="20.8" fill="#4f9edc" opacity="0.72"/>
<rect x="919.30" y="259.5" width="2.6" height="14.0" fill="#2696e4"/>
<rect x="922.72" y="268.7" width="1.1" height="10.2" fill="#4f9edc" opacity="0.72"/>
<rect x="921.97" y="270.6" width="2.6" height="5.7" fill="#2696e4"/>
<rect x="925.38" y="262.7" width="1.1" height="18.2" fill="#4f9edc" opacity="0.72"/>
<rect x="924.63" y="269.0" width="2.6" height="4.5" fill="#2696e4"/>
<rect x="928.05" y="259.4" width="1.1" height="22.5" fill="#4f9edc" opacity="0.72"/>
<rect x="927.30" y="266.0" width="2.6" height="6.3" fill="#2696e4"/>
<rect x="930.72" y="265.8" width="1.1" height="12.4" fill="#4f9edc" opacity="0.72"/>
<rect x="929.97" y="267.5" width="2.6" height="8.8" fill="#2696e4"/>
<rect x="933.38" y="265.4" width="1.1" height="14.6" fill="#4f9edc" opacity="0.72"/>
<rect x="932.63" y="274.2" width="2.6" height="4.6" fill="#2696e4"/>
<rect x="936.05" y="274.9" width="1.1" height="10.4" fill="#4f9edc" opacity="0.72"/>
<rect x="935.30" y="278.7" width="2.6" height="2.2" fill="#2696e4"/>
<rect x="938.72" y="275.7" width="1.1" height="11.2" fill="#4f9edc" opacity="0.72"/>
<rect x="937.97" y="279.1" width="2.6" height="6.9" fill="#2696e4"/>
<rect x="941.38" y="280.1" width="1.1" height="15.0" fill="#4f9edc" opacity="0.72"/>
<rect x="940.63" y="283.9" width="2.6" height="4.9" fill="#2696e4"/>
<rect x="944.05" y="286.2" width="1.1" height="11.3" fill="#f04028" opacity="0.68"/>
<rect x="943.30" y="286.3" width="2.6" height="9.5" fill="#ff2c14"/>
<rect x="946.72" y="289.4" width="1.1" height="9.6" fill="#f04028" opacity="0.68"/>
<rect x="945.97" y="291.7" width="2.6" height="5.4" fill="#ff2c14"/>
<rect x="949.38" y="285.6" width="1.1" height="11.5" fill="#f04028" opacity="0.68"/>
<rect x="948.63" y="288.2" width="2.6" height="6.5" fill="#ff2c14"/>
<rect x="952.05" y="282.1" width="1.1" height="12.2" fill="#f04028" opacity="0.68"/>
<rect x="951.30" y="284.1" width="2.6" height="9.3" fill="#ff2c14"/>
<rect x="954.72" y="281.9" width="1.1" height="21.6" fill="#f04028" opacity="0.68"/>
<rect x="953.97" y="284.3" width="2.6" height="11.6" fill="#ff2c14"/>
<rect x="957.38" y="280.2" width="1.1" height="16.5" fill="#f04028" opacity="0.68"/>
<rect x="956.63" y="281.4" width="2.6" height="14.1" fill="#ff2c14"/>
<rect x="960.05" y="278.4" width="1.1" height="19.8" fill="#f04028" opacity="0.68"/>
<rect x="959.30" y="281.4" width="2.6" height="13.5" fill="#ff2c14"/>
<rect x="962.72" y="285.6" width="1.1" height="21.5" fill="#f04028" opacity="0.68"/>
<rect x="961.97" y="291.7" width="2.6" height="13.0" fill="#ff2c14"/>
<rect x="965.38" y="288.8" width="1.1" height="36.7" fill="#f04028" opacity="0.68"/>
<rect x="964.63" y="303.1" width="2.6" height="10.7" fill="#ff2c14"/>
<rect x="968.05" y="292.8" width="1.1" height="28.0" fill="#f04028" opacity="0.68"/>
<rect x="967.30" y="299.6" width="2.6" height="16.7" fill="#ff2c14"/>
<rect x="970.72" y="270.0" width="1.1" height="35.1" fill="#f04028" opacity="0.68"/>
<rect x="969.97" y="287.4" width="2.6" height="15.6" fill="#ff2c14"/>
<rect x="973.38" y="277.0" width="1.1" height="18.8" fill="#4f9edc" opacity="0.72"/>
<rect x="972.63" y="281.5" width="2.6" height="10.3" fill="#2696e4"/>
<rect x="976.05" y="279.0" width="1.1" height="25.4" fill="#f04028" opacity="0.68"/>
<rect x="975.30" y="281.4" width="2.6" height="14.2" fill="#ff2c14"/>
<rect x="978.72" y="284.5" width="1.1" height="27.5" fill="#f04028" opacity="0.68"/>
<rect x="977.97" y="290.9" width="2.6" height="18.7" fill="#ff2c14"/>
<rect x="981.38" y="302.7" width="1.1" height="40.2" fill="#f04028" opacity="0.68"/>
<rect x="980.63" y="304.1" width="2.6" height="30.2" fill="#ff2c14"/>
<rect x="984.05" y="326.0" width="1.1" height="15.8" fill="#f04028" opacity="0.68"/>
<rect x="983.30" y="332.8" width="2.6" height="5.1" fill="#ff2c14"/>
<rect x="986.72" y="322.7" width="1.1" height="18.3" fill="#f04028" opacity="0.68"/>
<rect x="985.97" y="323.8" width="2.6" height="16.0" fill="#ff2c14"/>
<rect x="989.38" y="315.2" width="1.1" height="14.6" fill="#f04028" opacity="0.68"/>
<rect x="988.63" y="319.6" width="2.6" height="8.1" fill="#ff2c14"/>
<rect x="992.05" y="316.7" width="1.1" height="17.5" fill="#f04028" opacity="0.68"/>
<rect x="991.30" y="319.6" width="2.6" height="12.8" fill="#ff2c14"/>
<rect x="994.72" y="326.2" width="1.1" height="16.8" fill="#f04028" opacity="0.68"/>
<rect x="993.97" y="328.8" width="2.6" height="8.8" fill="#ff2c14"/>
<rect x="997.38" y="331.8" width="1.1" height="28.7" fill="#f04028" opacity="0.68"/>
<rect x="996.63" y="333.4" width="2.6" height="24.4" fill="#ff2c14"/>
<rect x="1000.05" y="351.5" width="1.1" height="11.3" fill="#f04028" opacity="0.68"/>
<rect x="999.30" y="353.6" width="2.6" height="8.2" fill="#ff2c14"/>
<rect x="1002.72" y="349.8" width="1.1" height="12.5" fill="#f04028" opacity="0.68"/>
<rect x="1001.97" y="353.6" width="2.6" height="6.7" fill="#ff2c14"/>
<rect x="1005.38" y="351.8" width="1.1" height="26.6" fill="#f04028" opacity="0.68"/>
<rect x="1004.63" y="355.6" width="2.6" height="17.7" fill="#ff2c14"/>
<rect x="1008.05" y="363.5" width="1.1" height="28.5" fill="#f04028" opacity="0.68"/>
<rect x="1007.30" y="370.3" width="2.6" height="10.7" fill="#ff2c14"/>
<rect x="1010.72" y="352.8" width="1.1" height="31.5" fill="#f04028" opacity="0.68"/>
<rect x="1009.97" y="352.9" width="2.6" height="28.7" fill="#ff2c14"/>
<rect x="1013.38" y="332.8" width="1.1" height="30.8" fill="#f04028" opacity="0.68"/>
<rect x="1012.63" y="338.5" width="2.6" height="19.9" fill="#ff2c14"/>
<rect x="1016.05" y="336.6" width="1.1" height="12.3" fill="#f04028" opacity="0.68"/>
<rect x="1015.30" y="337.8" width="2.6" height="9.2" fill="#ff2c14"/>
<rect x="1018.72" y="328.9" width="1.1" height="23.2" fill="#f04028" opacity="0.68"/>
<rect x="1017.97" y="333.5" width="2.6" height="15.4" fill="#ff2c14"/>
<rect x="1021.38" y="328.0" width="1.1" height="11.8" fill="#f04028" opacity="0.68"/>
<rect x="1020.63" y="330.6" width="2.6" height="5.9" fill="#ff2c14"/>
<rect x="1024.05" y="328.6" width="1.1" height="25.8" fill="#f04028" opacity="0.68"/>
<rect x="1023.30" y="329.6" width="2.6" height="22.4" fill="#ff2c14"/>
<rect x="1026.72" y="341.8" width="1.1" height="23.7" fill="#f04028" opacity="0.68"/>
<rect x="1025.97" y="348.2" width="2.6" height="15.0" fill="#ff2c14"/>
<rect x="1029.38" y="355.7" width="1.1" height="11.2" fill="#f04028" opacity="0.68"/>
<rect x="1028.63" y="358.6" width="2.6" height="6.9" fill="#ff2c14"/>
<rect x="1032.05" y="354.1" width="1.1" height="23.4" fill="#f04028" opacity="0.68"/>
<rect x="1031.30" y="360.8" width="2.6" height="16.3" fill="#ff2c14"/>
<rect x="1034.72" y="371.6" width="1.1" height="14.1" fill="#f04028" opacity="0.68"/>
<rect x="1033.97" y="374.7" width="2.6" height="8.6" fill="#ff2c14"/>
<rect x="1037.38" y="371.7" width="1.1" height="16.8" fill="#f04028" opacity="0.68"/>
<rect x="1036.63" y="379.0" width="2.6" height="7.2" fill="#ff2c14"/>
<rect x="1040.05" y="377.5" width="1.1" height="15.7" fill="#f04028" opacity="0.68"/>
<rect x="1039.30" y="380.2" width="2.6" height="8.1" fill="#ff2c14"/>
<rect x="1042.72" y="385.3" width="1.1" height="22.7" fill="#f04028" opacity="0.68"/>
<rect x="1041.97" y="385.9" width="2.6" height="14.6" fill="#ff2c14"/>
<rect x="1045.38" y="363.6" width="1.1" height="41.6" fill="#f04028" opacity="0.68"/>
<rect x="1044.63" y="370.4" width="2.6" height="28.3" fill="#ff2c14"/>
<rect x="1048.05" y="343.5" width="1.1" height="31.5" fill="#f04028" opacity="0.68"/>
<rect x="1047.30" y="351.1" width="2.6" height="21.6" fill="#ff2c14"/>
<rect x="1050.72" y="345.3" width="1.1" height="25.7" fill="#f04028" opacity="0.68"/>
<rect x="1049.97" y="354.0" width="2.6" height="15.0" fill="#ff2c14"/>
<rect x="1053.38" y="361.8" width="1.1" height="12.7" fill="#f04028" opacity="0.68"/>
<rect x="1052.63" y="363.2" width="2.6" height="10.3" fill="#ff2c14"/>
<rect x="1056.05" y="363.7" width="1.1" height="11.7" fill="#f04028" opacity="0.68"/>
<rect x="1055.30" y="365.9" width="2.6" height="7.9" fill="#ff2c14"/>
<rect x="1058.72" y="367.9" width="1.1" height="24.1" fill="#f04028" opacity="0.68"/>
<rect x="1057.97" y="370.5" width="2.6" height="12.2" fill="#ff2c14"/>
<rect x="1061.38" y="375.6" width="1.1" height="14.0" fill="#f04028" opacity="0.68"/>
<rect x="1060.63" y="378.3" width="2.6" height="5.5" fill="#ff2c14"/>
<rect x="1064.05" y="374.2" width="1.1" height="14.9" fill="#f04028" opacity="0.68"/>
<rect x="1063.30" y="375.0" width="2.6" height="7.6" fill="#ff2c14"/>
<rect x="1066.72" y="366.0" width="1.1" height="23.2" fill="#f04028" opacity="0.68"/>
<rect x="1065.97" y="373.7" width="2.6" height="5.0" fill="#ff2c14"/>
<rect x="1069.38" y="364.7" width="1.1" height="21.1" fill="#f04028" opacity="0.68"/>
<rect x="1068.63" y="367.7" width="2.6" height="8.8" fill="#ff2c14"/>
<rect x="1072.05" y="312.0" width="1.1" height="60.2" fill="#4f9edc" opacity="0.72"/>
<rect x="1071.30" y="322.6" width="2.6" height="47.4" fill="#2696e4"/>
<rect x="1074.72" y="317.8" width="1.1" height="28.0" fill="#4f9edc" opacity="0.72"/>
<rect x="1073.97" y="320.4" width="2.6" height="20.8" fill="#2696e4"/>
<rect x="1077.38" y="337.6" width="1.1" height="14.0" fill="#4f9edc" opacity="0.72"/>
<rect x="1076.63" y="340.3" width="2.6" height="9.5" fill="#2696e4"/>
<rect x="1080.05" y="344.0" width="1.1" height="8.8" fill="#4f9edc" opacity="0.72"/>
<rect x="1079.30" y="348.4" width="2.6" height="2.2" fill="#2696e4"/>
<rect x="1082.72" y="343.9" width="1.1" height="16.2" fill="#4f9edc" opacity="0.72"/>
<rect x="1081.97" y="348.6" width="2.6" height="3.4" fill="#2696e4"/>
<rect x="1085.38" y="345.8" width="1.1" height="10.6" fill="#4f9edc" opacity="0.72"/>
<rect x="1084.63" y="348.4" width="2.6" height="3.0" fill="#2696e4"/>
<rect x="1088.05" y="343.8" width="1.1" height="15.7" fill="#4f9edc" opacity="0.72"/>
<rect x="1087.30" y="348.6" width="2.6" height="8.3" fill="#2696e4"/>
<rect x="1090.72" y="343.7" width="1.1" height="15.1" fill="#4f9edc" opacity="0.72"/>
<rect x="1089.97" y="344.0" width="2.6" height="12.1" fill="#2696e4"/>
<rect x="1093.38" y="323.4" width="1.1" height="27.8" fill="#4f9edc" opacity="0.72"/>
<rect x="1092.63" y="330.0" width="2.6" height="15.3" fill="#2696e4"/>
<rect x="1096.05" y="312.7" width="1.1" height="23.1" fill="#4f9edc" opacity="0.72"/>
<rect x="1095.30" y="313.3" width="2.6" height="20.5" fill="#2696e4"/>
<rect x="1098.72" y="300.0" width="1.1" height="17.8" fill="#4f9edc" opacity="0.72"/>
<rect x="1097.97" y="308.1" width="2.6" height="7.5" fill="#2696e4"/>
<rect x="1101.38" y="301.2" width="1.1" height="9.0" fill="#4f9edc" opacity="0.72"/>
<rect x="1100.63" y="306.7" width="2.6" height="1.8" fill="#2696e4"/>
<rect x="1104.05" y="304.4" width="1.1" height="9.9" fill="#4f9edc" opacity="0.72"/>
<rect x="1103.30" y="306.8" width="2.6" height="1.8" fill="#2696e4"/>
<rect x="1106.72" y="303.6" width="1.1" height="7.2" fill="#4f9edc" opacity="0.72"/>
<rect x="1105.97" y="307.0" width="2.6" height="1.5" fill="#2696e4"/>
<rect x="1109.38" y="303.3" width="1.1" height="14.6" fill="#4f9edc" opacity="0.72"/>
<rect x="1108.63" y="306.8" width="2.6" height="4.0" fill="#2696e4"/>
<rect x="1112.05" y="304.8" width="1.1" height="12.3" fill="#4f9edc" opacity="0.72"/>
<rect x="1111.30" y="310.5" width="2.6" height="1.4" fill="#2696e4"/>
<rect x="1114.72" y="308.2" width="1.1" height="6.4" fill="#4f9edc" opacity="0.72"/>
<rect x="1113.97" y="310.6" width="2.6" height="1.9" fill="#2696e4"/>
<rect x="1117.38" y="302.8" width="1.1" height="12.4" fill="#4f9edc" opacity="0.72"/>
<rect x="1116.63" y="310.0" width="2.6" height="2.6" fill="#2696e4"/>
<rect x="1120.05" y="304.7" width="1.1" height="10.8" fill="#4f9edc" opacity="0.72"/>
<rect x="1119.30" y="309.5" width="2.6" height="1.4" fill="#2696e4"/>
<rect x="1120.1" y="220" width=".6" height="19.5" fill="#2696e4" opacity=".7"/>
<rect x="1150.6" y="212" width="3.1" height="19" fill="#2696e4"/><rect x="1148.2" y="229" width="3.6" height="10.5" fill="#2696e4"/>
<rect x="1154.6" y="212" width=".6" height="11" fill="#2696e4" opacity=".7"/><rect x="1176.3" y="212" width=".6" height="12" fill="#2696e4" opacity=".7"/>
<rect x="1224.2" y="139" width=".6" height="8" fill="#2696e4" opacity=".7"/>
<rect x="1230.6" y="119" width="3.2" height="28" fill="#2696e4"/><rect x="1233" y="119" width="10.5" height="11.6" fill="#2696e4"/>
<rect x="1244.6" y="84" width=".7" height="35" fill="#2696e4" opacity=".8"/><rect x="1243.4" y="93" width="3.2" height="23" fill="#2696e4"/>
</g>
<path d="M977 322.6H1072" stroke="#c8201a" stroke-width=".8" stroke-dasharray="2.2 1.6" fill="none"/>
<path d="M992 335L1042 398" stroke="#7a1410" stroke-width=".6" stroke-dasharray="1.5 2.5" fill="none"/>
<circle cx="976.3" cy="322.4" r="1.7" fill="none" stroke="#f2e6e0" stroke-width=".8"/>
<path d="M1071 323.3l3.4-2.4v4.8z" fill="#cfc08a"/>
<path d="M1042.8 403.4l3.2-2.4v4.8z" fill="none" stroke="#f2dcd8" stroke-width=".6"/>
<g fill="none" stroke="#1d9be9" stroke-width="3.4" stroke-linecap="round" stroke-linejoin="round">
<path d="M1075 312.5C1066 310.5 1059.5 315 1059 323C1058.6 331 1064 336 1071 336" stroke-width="3.8"/>
<path d="M1066 312.2C1074 310.8 1086 313 1088.6 322C1090.5 330 1085 337.5 1077.5 337.5" stroke-width="3.6"/><path d="M1073.2 326V366" stroke-width="4.4" stroke-linecap="butt"/>
<path d="M1023 391.6C1032 390.4 1045 391.5 1052 393C1060 395 1062.5 401 1060.5 407C1058 414.5 1048 419.3 1038 419.3C1028 419.3 1019.5 414.5 1019.5 405.5C1019.5 398 1026 392.5 1036 391.8"/>
<path d="M955.3 499.2C960 500.5 961.8 504 961.6 509C961.4 514 958.5 516.3 954.3 516.8" stroke="#1fa6f2"/><path d="M945.8 510.5L960.4 509.3" stroke="#1fa6f2"/>
</g>
<g transform="translate(1023.3 379.6) rotate(42)"><rect x="-6.5" y="-3" width="13" height="6" rx="2.6" fill="#f0f0f0" stroke="#8d8d8d" stroke-width=".8"/><rect x="-3.8" y="-1.1" width="8.4" height="2.2" rx="1.1" fill="#a8a8a8"/></g>
<text x="10" y="504.2" font-size="7.7" font-weight="bold" fill="#f5ee1c" textLength="54.5" lengthAdjust="spacingAndGlyphs" stroke="#f5ee1c" stroke-width=".35">HEADLINES:</text>
<g font-size="6.2" stroke-width=".18">
<text x="10" y="514.3" fill="#b9bcc2" stroke="#b9bcc2">2019.03.01 11:26:Manufacturing PMI</text>
<text x="10" y="523.7" fill="#b9bcc2" stroke="#b9bcc2" textLength="137.3" lengthAdjust="spacingAndGlyphs">2019.03.01 11:26:Net Lending to Individuals m/m</text>
<text x="10" y="533.2" fill="#f0f0f0" stroke="#f0f0f0">No news to show</text>
<text x="10" y="542.4" fill="#f0f0f0" stroke="#f0f0f0">No news to show</text>
<text x="10" y="551.7" fill="#f0f0f0" stroke="#f0f0f0">No news to show</text>
<text x="5.9" y="567.8" fill="#f0f0f0" font-size="6.3" textLength="53" lengthAdjust="spacingAndGlyphs">SRSProTradeBoard</text>
</g>
<g transform="translate(0 0)">
<path d="M1114.5 119.6L1160 90H1243.6V119.6Z" fill="#17497b"/>
<path d="M1144 65L1166 52.5H1234L1216.5 65Z" fill="url(#gMonTop)" stroke="#dff0fd" stroke-width="1"/>
<path d="M1216 64.5L1233.6 52.8V92.5Q1233.6 95 1231.5 97L1216 114.8Z" fill="url(#gMonSide)" stroke="#e8f4fe" stroke-width="1"/>
<path d="M1218.6 67.6L1231 59.4V96L1218.6 108.6Z" fill="#8fc0ea" stroke="#4685c4" stroke-width=".5"/>
<rect x="1144" y="64" width="72.5" height="51" rx="2.5" fill="url(#gMonFront)" stroke="#e4f2fd" stroke-width="1"/>
<rect x="1148" y="68" width="64" height="43" fill="#1d1d1d"/>
<text transform="translate(1172.6 60.8) skewX(-32) scale(1 .64)" font-size="10" font-weight="bold" font-style="italic" fill="#12305f" stroke="#12305f" stroke-width=".3" textLength="28" lengthAdjust="spacingAndGlyphs">SRS PRO</text>
<text transform="matrix(0 1 -1 .42 1222 68.6)" font-size="8.2" font-weight="bold" fill="#10264f" textLength="34" lengthAdjust="spacingAndGlyphs" stroke="#10264f" stroke-width=".35">MONITOR</text>
<text x="1150.8" y="77.2" font-size="9.3" font-weight="bold" fill="#f4e21a" stroke="#f4e21a" stroke-width=".3" textLength="12.8" lengthAdjust="spacingAndGlyphs">H4</text>
<text x="1173.8" y="77.2" font-size="9.3" font-weight="bold" fill="#2cb43a" stroke="#2cb43a" stroke-width=".25" textLength="32.5" lengthAdjust="spacingAndGlyphs">Bullish</text>
<rect x="1157.5" y="84" width="1" height="26.5" fill="#ff2a12"/><rect x="1155" y="88" width="6" height="18.5" rx=".8" fill="#ff2a12"/>
<rect x="1168.8" y="84" width="1" height="26.5" fill="#ff2a12"/><rect x="1166.3" y="88" width="6" height="18.5" rx=".8" fill="#ff2a12"/>
<rect x="1180.5" y="84" width="1" height="26.5" fill="#ff2a12"/><rect x="1178" y="88" width="6" height="18.5" rx=".8" fill="#ff2a12"/>
<rect x="1191.8" y="84" width="1" height="26.5" fill="#ff2a12"/><rect x="1189.3" y="88" width="6" height="18.5" rx=".8" fill="#ff2a12"/>
<rect x="1202.8" y="78" width="1" height="26" fill="#2298ee"/><rect x="1200.3" y="82.5" width="6" height="17.5" rx=".8" fill="#2298ee"/>
</g>
<g transform="translate(0 94)">
<path d="M1114.5 119.6L1160 90H1243.6V119.6Z" fill="#17497b"/>
<path d="M1144 65L1166 52.5H1234L1216.5 65Z" fill="url(#gMonTop)" stroke="#dff0fd" stroke-width="1"/>
<path d="M1216 64.5L1233.6 52.8V92.5Q1233.6 95 1231.5 97L1216 114.8Z" fill="url(#gMonSide)" stroke="#e8f4fe" stroke-width="1"/>
<path d="M1218.6 67.6L1231 59.4V96L1218.6 108.6Z" fill="#8fc0ea" stroke="#4685c4" stroke-width=".5"/>
<rect x="1144" y="64" width="72.5" height="51" rx="2.5" fill="url(#gMonFront)" stroke="#e4f2fd" stroke-width="1"/>
<rect x="1148" y="68" width="64" height="43" fill="#1d1d1d"/>
<text transform="translate(1172.6 60.8) skewX(-32) scale(1 .64)" font-size="10" font-weight="bold" font-style="italic" fill="#12305f" stroke="#12305f" stroke-width=".3" textLength="28" lengthAdjust="spacingAndGlyphs">SRS PRO</text>
<text transform="matrix(0 1 -1 .42 1222 68.6)" font-size="8.2" font-weight="bold" fill="#10264f" textLength="34" lengthAdjust="spacingAndGlyphs" stroke="#10264f" stroke-width=".35">MONITOR</text>
<text x="1150.8" y="77.2" font-size="9.3" font-weight="bold" fill="#f4e21a" stroke="#f4e21a" stroke-width=".3" textLength="12.8" lengthAdjust="spacingAndGlyphs">H1</text>
<text x="1173.8" y="77.2" font-size="9.3" font-weight="bold" fill="#2cb43a" stroke="#2cb43a" stroke-width=".25" textLength="32.5" lengthAdjust="spacingAndGlyphs">Bullish</text>
<rect x="1157.5" y="77.3" width="1" height="26.0" fill="#2298ee"/><rect x="1155" y="82" width="6" height="17.299999999999997" rx=".8" fill="#2298ee"/>
<rect x="1168.8" y="77.3" width="1" height="26.0" fill="#2298ee"/><rect x="1166.3" y="82" width="6" height="17.299999999999997" rx=".8" fill="#2298ee"/>
<rect x="1180.5" y="77.3" width="1" height="26.0" fill="#2298ee"/><rect x="1178" y="82" width="6" height="17.299999999999997" rx=".8" fill="#2298ee"/>
<rect x="1191.8" y="77.3" width="1" height="26.0" fill="#2298ee"/><rect x="1189.3" y="82" width="6" height="17.299999999999997" rx=".8" fill="#2298ee"/>
<rect x="1202.8" y="77.3" width="1" height="26.0" fill="#2298ee"/><rect x="1200.3" y="82" width="6" height="17.299999999999997" rx=".8" fill="#2298ee"/>
</g>
<g transform="translate(0 186.8)">
<path d="M1114.5 119.6L1160 90H1243.6V119.6Z" fill="#17497b"/>
<path d="M1144 65L1166 52.5H1234L1216.5 65Z" fill="url(#gMonTop)" stroke="#dff0fd" stroke-width="1"/>
<path d="M1216 64.5L1233.6 52.8V92.5Q1233.6 95 1231.5 97L1216 114.8Z" fill="url(#gMonSide)" stroke="#e8f4fe" stroke-width="1"/>
<path d="M1218.6 67.6L1231 59.4V96L1218.6 108.6Z" fill="#8fc0ea" stroke="#4685c4" stroke-width=".5"/>
<rect x="1144" y="64" width="72.5" height="51" rx="2.5" fill="url(#gMonFront)" stroke="#e4f2fd" stroke-width="1"/>
<rect x="1148" y="68" width="64" height="43" fill="#1d1d1d"/>
<text transform="translate(1172.6 60.8) skewX(-32) scale(1 .64)" font-size="10" font-weight="bold" font-style="italic" fill="#12305f" stroke="#12305f" stroke-width=".3" textLength="28" lengthAdjust="spacingAndGlyphs">SRS PRO</text>
<text transform="matrix(0 1 -1 .42 1222 68.6)" font-size="8.2" font-weight="bold" fill="#10264f" textLength="34" lengthAdjust="spacingAndGlyphs" stroke="#10264f" stroke-width=".35">MONITOR</text>
<text x="1150.8" y="77.2" font-size="9.3" font-weight="bold" fill="#f4e21a" stroke="#f4e21a" stroke-width=".3" textLength="11.2" lengthAdjust="spacingAndGlyphs">15</text>
<text x="1173.8" y="77.2" font-size="9.3" font-weight="bold" fill="#ee2a1e" stroke="#ee2a1e" stroke-width=".25" textLength="37" lengthAdjust="spacingAndGlyphs">Bearish</text>
<rect x="1157.5" y="77.5" width="1" height="25.5" fill="#2298ee"/><rect x="1155" y="81.5" width="6" height="17.5" rx=".8" fill="#2298ee"/>
<rect x="1168.8" y="77.5" width="1" height="25.5" fill="#2298ee"/><rect x="1166.3" y="81.5" width="6" height="17.5" rx=".8" fill="#2298ee"/>
<rect x="1180.5" y="84" width="1" height="25" fill="#ff2a12"/><rect x="1178" y="89" width="6" height="15.5" rx=".8" fill="#ff2a12"/>
<rect x="1191.8" y="84" width="1" height="25" fill="#ff2a12"/><rect x="1189.3" y="89" width="6" height="15.5" rx=".8" fill="#ff2a12"/>
<rect x="1202.8" y="84" width="1" height="25" fill="#ff2a12"/><rect x="1200.3" y="89" width="6" height="15.5" rx=".8" fill="#ff2a12"/>
</g>
<circle cx="1147" cy="326.7" r="10.9" fill="#4468b4"/>
<path d="M1148.2 334v-6.6h2.3l.35-2.6h-2.65v-1.6c0-.75.25-1.25 1.35-1.25h1.4v-2.3c-.25-.03-1.1-.1-2.05-.1c-2.05 0-3.45 1.25-3.45 3.5v1.75h-2.3v2.6h2.3v6.6z" fill="#fff"/>
<circle cx="1180.6" cy="326.7" r="10.9" fill="#e6553c"/>
<path d="M1180.3 324.2A3.9 3.9 0 1 0 1181.3 327H1177.6" fill="none" stroke="#fff" stroke-width="1.35"/><path d="M1183.9 326.9h4.8M1186.3 324.5v4.8" stroke="#fff" stroke-width="1.25"/>
<circle cx="1213.5" cy="326.7" r="10.9" fill="#1e9ff0"/>
<path transform="translate(1213.5 326.9) scale(.92) translate(-1213.7 -326.7)" d="M1220.6 321.9c-.5.25-1.05.4-1.6.45c.6-.35 1-.9 1.25-1.55c-.55.3-1.15.55-1.8.65c-.5-.55-1.25-.9-2.05-.9c-1.55 0-2.8 1.25-2.8 2.8c0 .2 0 .45.05.65c-2.35-.1-4.4-1.25-5.8-2.95c-.25.4-.4.9-.4 1.4c0 1 .5 1.85 1.25 2.35c-.45 0-.9-.15-1.25-.35c0 1.4 1 2.5 2.25 2.8c-.25.05-.5.1-.75.1c-.2 0-.35 0-.55-.05c.35 1.1 1.4 1.95 2.65 1.95c-.95.75-2.2 1.2-3.5 1.2c-.25 0-.45 0-.65-.05c1.25.8 2.7 1.25 4.3 1.25c5.2 0 8-4.3 8-8v-.35c.55-.4 1-.9 1.4-1.4z" fill="#fff"/>
<g transform="translate(0 0)">
<path d="M7.2 580L13.0 574.5H121.5L115 580Z" fill="url(#gTop)"/>
<path d="M115 580L121.5 574.5V656.8L115 662.4Z" fill="url(#gSide)"/>
<rect x="7.2" y="580" width="107.8" height="82.39999999999998" rx="1.5" fill="url(#gFront)"/>
<path d="M7.2 580H115V662.4" fill="none" stroke="#e9f5fe" stroke-width=".8" opacity=".8"/>
<path d="M115 580L121.5 574.5" fill="none" stroke="#d6ebfb" stroke-width="1"/>
<rect x="10.5" y="582" width="102" height="77.2" rx="1.2" fill="none" stroke="#4a86c6" stroke-width=".7"/>
<path d="M10.5 601.7H112.5" stroke="#4a86c6" stroke-width=".7"/>
<path d="M10.5 620.6H112.5" stroke="#4a86c6" stroke-width=".7"/>
<path d="M10.5 640.1H112.5" stroke="#4a86c6" stroke-width=".7"/>
<text x="58.8" y="595.2" font-size="9.3" font-weight="bold" text-anchor="middle" fill="#08122a" stroke="#08122a" stroke-width=".35" textLength="49" lengthAdjust="spacingAndGlyphs">Sentiment</text>
<text x="28" y="614.2" font-size="9.3" font-weight="bold" fill="#08122a" stroke="#08122a" stroke-width=".35">H4</text>
<text x="28" y="632.8" font-size="9.3" font-weight="bold" fill="#08122a" stroke="#08122a" stroke-width=".35">H1</text>
<text x="28" y="651.4" font-size="9.3" font-weight="bold" fill="#08122a" stroke="#08122a" stroke-width=".35">M15</text>
</g>
<path transform="translate(83.9 613.7)" d="M-3.6 -5.7L6 -5.7L6 3L3.3 5.2L3 0L-4.5 6.1L-6.3 3.9L0 -2.5L-5.8 -2.8Z" fill="#077209"/>
<path transform="translate(83.9 632.2)" d="M-3.6 -5.7L6 -5.7L6 3L3.3 5.2L3 0L-4.5 6.1L-6.3 3.9L0 -2.5L-5.8 -2.8Z" fill="#077209"/>
<path transform="translate(83.9 650.8)" d="M-3.6 -5.7L6 -5.7L6 3L3.3 5.2L3 0L-4.5 6.1L-6.3 3.9L0 -2.5L-5.8 -2.8Z" fill="#077209"/>
<g transform="translate(119.3 0)">
<path d="M7.2 580L13.0 574.5H121.5L115 580Z" fill="url(#gTop)"/>
<path d="M115 580L121.5 574.5V656.8L115 662.4Z" fill="url(#gSide)"/>
<rect x="7.2" y="580" width="107.8" height="82.39999999999998" rx="1.5" fill="url(#gFront)"/>
<path d="M7.2 580H115V662.4" fill="none" stroke="#e9f5fe" stroke-width=".8" opacity=".8"/>
<path d="M115 580L121.5 574.5" fill="none" stroke="#d6ebfb" stroke-width="1"/>
<rect x="10.5" y="582" width="102" height="77.2" rx="1.2" fill="none" stroke="#4a86c6" stroke-width=".7"/>
<path d="M10.5 601.7H112.5" stroke="#4a86c6" stroke-width=".7"/>
<path d="M10.5 620.6H112.5" stroke="#4a86c6" stroke-width=".7"/>
<path d="M10.5 640.1H112.5" stroke="#4a86c6" stroke-width=".7"/>
<text x="60.5" y="595.2" font-size="9.3" font-weight="bold" text-anchor="middle" fill="#08122a" stroke="#08122a" stroke-width=".35" textLength="53.2" lengthAdjust="spacingAndGlyphs">Momentum</text>
<text x="28" y="614.2" font-size="9.3" font-weight="bold" fill="#08122a" stroke="#08122a" stroke-width=".35">H4</text>
<text x="28" y="632.8" font-size="9.3" font-weight="bold" fill="#08122a" stroke="#08122a" stroke-width=".35">H1</text>
<text x="28" y="651.4" font-size="9.3" font-weight="bold" fill="#08122a" stroke="#08122a" stroke-width=".35">M15</text>
</g>
<g transform="translate(203.5 613)"><path d="M0 -4.9L6.2 4.5L0.1 1.2Z" fill="#c6e6f7" stroke="#5b9186" stroke-width=".7"/><path d="M0 -5L-6.2 4.6L0.3 1.3Z" fill="#0b6f10"/></g>
<g transform="translate(203 633)"><path d="M-0.2 4.7L-6.1 -4.5L-0.2 -1.8Z" fill="#c9d6f0" stroke="#c06a78" stroke-width=".7"/><path d="M-0.4 4.9L6.3 -4.6L-0.3 -1.9Z" fill="#e22a1a"/></g>
<g transform="translate(203 651.6)"><path d="M-0.2 4.7L-6.1 -4.5L-0.2 -1.8Z" fill="#c9d6f0" stroke="#c06a78" stroke-width=".7"/><path d="M-0.4 4.9L6.3 -4.6L-0.3 -1.9Z" fill="#e22a1a"/></g>
<g id="tm">
<path d="M891 580L896.8 574.5H1243L1236 580Z" fill="url(#gTop)"/>
<path d="M1236 580L1243 574.5V656.8L1236 662.4Z" fill="url(#gSide)"/>
<rect x="891" y="580" width="345" height="82.39999999999998" rx="1.5" fill="url(#gTM)"/>
<path d="M891 580H1236V662.4" fill="none" stroke="#e9f5fe" stroke-width=".8" opacity=".8"/>
<path d="M1236 580L1243 574.5" fill="none" stroke="#d6ebfb" stroke-width="1"/>
<rect x="895.6" y="581.3" width="336" height="78.3" rx="1.2" fill="none" stroke="#4a86c6" stroke-width=".7"/>
<path d="M895.6 601.3H1231.6M1018.8 601.3V659.6M1129.6 601.3V659.6" stroke="#4a86c6" stroke-width=".7" fill="none"/>
<rect x="897.8" y="584.2" width="50.8" height="13.2" rx="1.6" fill="url(#gRedBtn)"/>
<text x="923.2" y="594.2" font-size="9.3" font-weight="bold" text-anchor="middle" fill="#3a0c08" stroke="#3a0c08" stroke-width=".35" textLength="36.7" lengthAdjust="spacingAndGlyphs">00:07:26</text>
<text x="1069.3" y="592.7" font-size="9.3" font-weight="bold" text-anchor="middle" fill="#06101e" stroke="#06101e" stroke-width=".3" textLength="82.8" lengthAdjust="spacingAndGlyphs">TRADE MANAGER</text>
<rect x="1141" y="584.2" width="83.2" height="12.8" rx="1.6" fill="url(#gRedBtn)"/>
<text x="1181.6" y="594" font-size="9.3" font-weight="bold" text-anchor="middle" fill="#2a0806" stroke="#2a0806" stroke-width=".35" textLength="62.5" lengthAdjust="spacingAndGlyphs">RESET CHART</text>
<rect x="1141" y="604.2" width="83.2" height="12.7" rx="1.6" fill="url(#gYelBtn)"/>
<text x="1182.6" y="613.9" font-size="9.3" font-weight="bold" text-anchor="middle" fill="#1a0a06" stroke="#1a0a06" stroke-width=".35" textLength="54.5" lengthAdjust="spacingAndGlyphs">Set SL to BE</text>
<rect x="1141" y="623.3" width="83.2" height="12.4" rx="1.6" fill="url(#gOrBtn)"/>
<text x="1182.6" y="632.9" font-size="9.3" font-weight="bold" text-anchor="middle" fill="#1a0a06" stroke="#1a0a06" stroke-width=".35" textLength="37.5" lengthAdjust="spacingAndGlyphs">Close All</text>
<rect x="1141" y="642" width="83.2" height="12.4" rx="1.6" fill="url(#gOrBtn)"/>
<text x="1182.6" y="651.5" font-size="9.3" font-weight="bold" text-anchor="middle" fill="#1a0a06" stroke="#1a0a06" stroke-width=".35" textLength="72.5" lengthAdjust="spacingAndGlyphs">Close All Current</text>
<rect x="1027" y="624.4" width="90.5" height="12.8" rx="1.6" fill="url(#gGrBtn)"/>
<text x="1072.3" y="634.3" font-size="9.3"  text-anchor="middle" fill="#86d873" textLength="37.5" lengthAdjust="spacingAndGlyphs">No Signal</text>
<g font-size="9.3" font-weight="bold" fill="#06101e" stroke="#06101e" stroke-width=".35">
<text x="904.4" y="613.2" textLength="28.5" lengthAdjust="spacingAndGlyphs">Signal</text><text x="937.8" y="613.2">:</text>
<text x="944.4" y="613.2" textLength="42.8" lengthAdjust="spacingAndGlyphs">waiting...</text>
<text x="904.4" y="626.5" textLength="23.4" lengthAdjust="spacingAndGlyphs">Style</text><text x="937.8" y="626.5">:</text>
<text x="904.4" y="640.1" textLength="10.5" lengthAdjust="spacingAndGlyphs">TF</text><text x="937.8" y="640.1">:</text>
<text x="944.4" y="640.1" textLength="20" lengthAdjust="spacingAndGlyphs">M15</text>
<text x="904.4" y="653.8" textLength="25.7" lengthAdjust="spacingAndGlyphs">TP1%</text><text x="937.8" y="653.8">:</text>
<text x="944.4" y="653.8" textLength="11.4" lengthAdjust="spacingAndGlyphs">75</text>
<text x="1076" y="653.7" text-anchor="middle" textLength="101" lengthAdjust="spacingAndGlyphs">www.srstrendrider.com</text>
</g></g>
</svg></body></html>
